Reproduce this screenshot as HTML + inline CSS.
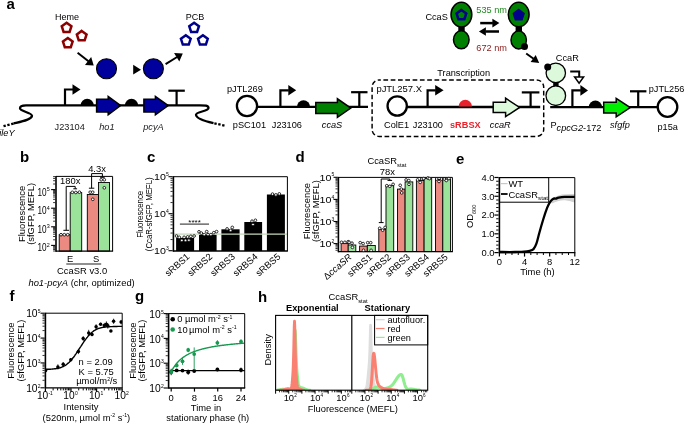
<!DOCTYPE html>
<html lang="en">
<head>
<meta charset="utf-8">
<title>CcaSR figure</title>
<style>
html,body{margin:0;padding:0;background:#fff;}
body{width:685px;height:424px;overflow:hidden;}
svg{display:block;font-family:"Liberation Sans",Arial,sans-serif;}
</style>
</head>
<body>
<svg width="685" height="424" viewBox="0 0 685 424">
<rect x="0" y="0" width="685" height="424" fill="#ffffff"/>
<g id="panel-a">
<text x="6.5" y="8.6" font-size="15" font-weight="bold">a</text>
<text x="55" y="20.3" font-size="9">Heme</text>
<polygon points="66.60,22.70 71.45,26.22 69.60,31.93 63.60,31.93 61.75,26.22" fill="none" stroke="#8b0000" stroke-width="2.5" stroke-linejoin="miter"/>
<polygon points="81.70,30.90 86.55,34.42 84.70,40.13 78.70,40.13 76.85,34.42" fill="none" stroke="#8b0000" stroke-width="2.5" stroke-linejoin="miter"/>
<polygon points="67.80,38.00 72.65,41.52 70.80,47.23 64.80,47.23 62.95,41.52" fill="none" stroke="#8b0000" stroke-width="2.5" stroke-linejoin="miter"/>
<line x1="77.60" y1="52.70" x2="88.46" y2="61.33" stroke="#000" stroke-width="2.0"/>
<polygon points="93.70,65.50 84.95,64.93 91.18,57.11" fill="#000"/>
<circle cx="106.50" cy="68.70" r="10" fill="#00009c" stroke="#000" stroke-width="1.1"/>
<polygon points="133.20,64.80 133.20,74.60 141.00,69.70" fill="#000"/>
<circle cx="153.40" cy="68.70" r="10" fill="#00009c" stroke="#000" stroke-width="1.1"/>
<line x1="165.60" y1="64.10" x2="177.10" y2="57.02" stroke="#000" stroke-width="2.0"/>
<polygon points="182.80,53.50 179.29,61.53 174.05,53.02" fill="#000"/>
<text x="185.8" y="20.3" font-size="9">PCB</text>
<polygon points="194.10,22.70 198.95,26.22 197.10,31.93 191.10,31.93 189.25,26.22" fill="none" stroke="#00008b" stroke-width="2.5" stroke-linejoin="miter"/>
<polygon points="185.80,35.30 190.65,38.82 188.80,44.53 182.80,44.53 180.95,38.82" fill="none" stroke="#00008b" stroke-width="2.5" stroke-linejoin="miter"/>
<polygon points="202.90,35.30 207.75,38.82 205.90,44.53 199.90,44.53 198.05,38.82" fill="none" stroke="#00008b" stroke-width="2.5" stroke-linejoin="miter"/>
<path d="M224.5,125.6 L213.5,123.2" fill="none" stroke="#000" stroke-width="2.3" stroke-dasharray="2.4,1.6"/>
<path d="M213.5,123.2 C204,121 196,118.5 196,114.8 C196,111.5 208.5,111.5 208.5,108 C208.5,105.4 205,105.4 200,105.4 L26,105.4 C22,105.4 20,106.5 20,108.3 C20,111.5 32,112.5 32,115.8 C32,119.5 22,121.5 13.5,123.6" fill="none" stroke="#000" stroke-width="2.3"/>
<path d="M13.5,123.6 L3.5,126.2" fill="none" stroke="#000" stroke-width="2.3" stroke-dasharray="2.4,1.6"/>
<path d="M65,105.4 V89.5 H73.0" fill="none" stroke="#000" stroke-width="2.2"/>
<polygon points="72.50,84.20 72.50,94.80 80.50,89.50" fill="#000"/>
<path d="M80.60,105.4 A6.6,6.6 0 0 1 93.80,105.4 Z" fill="#000"/>
<polygon points="96.60,99.30 108.20,99.30 108.20,96.40 120.60,105.60 108.20,114.80 108.20,111.90 96.60,111.90" fill="#00009c" stroke="#000" stroke-width="1.5"/>
<path d="M124.90,105.4 A6.6,6.6 0 0 1 138.10,105.4 Z" fill="#000"/>
<polygon points="143.90,99.30 155.40,99.30 155.40,96.40 168.20,105.60 155.40,114.80 155.40,111.90 143.90,111.90" fill="#00009c" stroke="#000" stroke-width="1.5"/>
<line x1="176.60" y1="105.40" x2="176.60" y2="90.70" stroke="#000" stroke-width="2.2"/>
<line x1="168.40" y1="90.70" x2="184.80" y2="90.70" stroke="#000" stroke-width="2.2"/>
<text x="-0.8" y="136.4" font-size="9.2" font-style="italic">ileY</text>
<text x="54.6" y="129.8" font-size="9.2" fill="#222">J23104</text>
<text x="99.2" y="129.8" font-size="9.2" font-style="italic" fill="#222">ho1</text>
<text x="143.2" y="129.8" font-size="9.2" font-style="italic" fill="#222">pcyA</text>
<line x1="257.00" y1="106.90" x2="368.00" y2="106.90" stroke="#000" stroke-width="2.3"/>
<circle cx="247.00" cy="106.00" r="10.1" fill="#fff" stroke="#000" stroke-width="2.3"/>
<text x="227" y="92.3" font-size="9.2">pJTL269</text>
<text x="232.8" y="128.2" font-size="9.2">pSC101</text>
<path d="M280.4,106.9 V90.3 H288.8" fill="none" stroke="#000" stroke-width="2.2"/>
<polygon points="288.30,85.00 288.30,95.60 296.20,90.30" fill="#000"/>
<path d="M296.90,106.9 A6.6,6.6 0 0 1 310.10,106.9 Z" fill="#000"/>
<polygon points="315.80,102.60 337.40,102.60 337.40,98.80 350.80,108.10 337.40,117.40 337.40,113.60 315.80,113.60" fill="#008000" stroke="#000" stroke-width="1.5"/>
<line x1="359.30" y1="106.90" x2="359.30" y2="92.20" stroke="#000" stroke-width="2.2"/>
<line x1="351.10" y1="92.20" x2="367.50" y2="92.20" stroke="#000" stroke-width="2.2"/>
<text x="271.8" y="128.2" font-size="9.2">J23106</text>
<text x="321.8" y="128.2" font-size="9.2" font-style="italic">ccaS</text>
<rect x="372.1" y="80" width="171.6" height="56.4" rx="7" ry="7" fill="none" stroke="#000" stroke-width="1.45" stroke-dasharray="4.7,2.6" stroke-dashoffset="3"/>
<text x="437.3" y="75.5" font-size="9.2">Transcription</text>
<line x1="407.00" y1="107.00" x2="540.20" y2="107.00" stroke="#000" stroke-width="2.3"/>
<circle cx="397.20" cy="106.00" r="9.65" fill="#fff" stroke="#000" stroke-width="2.3"/>
<text x="376.4" y="92.2" font-size="9.45">pJTL257.X</text>
<text x="384" y="128.2" font-size="9.2">ColE1</text>
<text x="412.8" y="128.2" font-size="9.2">J23100</text>
<path d="M427.6,107.0 V90.3 H435.7" fill="none" stroke="#000" stroke-width="2.2"/>
<polygon points="435.20,85.00 435.20,95.60 443.60,90.30" fill="#000"/>
<path d="M458.70,106.4 A6.6,6.6 0 0 1 471.90,106.4 Z" fill="#e8222c"/>
<text x="450" y="128.2" font-size="9.2" font-weight="bold" fill="#e8222c">sRBSX</text>
<polygon points="493.20,102.30 505.60,102.30 505.60,98.20 519.60,107.40 505.60,116.60 505.60,112.50 493.20,112.50" fill="#dcf9dc" stroke="#000" stroke-width="1.5"/>
<text x="489.8" y="128.2" font-size="9.2" font-style="italic">ccaR</text>
<line x1="530.60" y1="107.00" x2="530.60" y2="92.40" stroke="#000" stroke-width="2.2"/>
<line x1="521.80" y1="92.40" x2="539.40" y2="92.40" stroke="#000" stroke-width="2.2"/>
<text x="425.4" y="19.7" font-size="9.2">CcaS</text>
<rect x="458.3" y="25" width="6.4" height="8" fill="#000"/>
<ellipse cx="461.40" cy="14.60" rx="10.4" ry="12.3" fill="#008000" stroke="#000" stroke-width="1.5"/>
<ellipse cx="461.30" cy="39.80" rx="7.8" ry="9.0" fill="#008000" stroke="#000" stroke-width="1.5"/>
<polygon points="461.40,9.90 466.25,13.42 464.40,19.13 458.40,19.13 456.55,13.42" fill="none" stroke="#00008b" stroke-width="2.5" stroke-linejoin="miter"/>
<text x="476.3" y="13.2" font-size="9.2" fill="#1f8a1f">535 nm</text>
<text x="476.3" y="50.7" font-size="9.2" fill="#8b1a1a">672 nm</text>
<line x1="480.20" y1="23.10" x2="492.90" y2="23.10" stroke="#000" stroke-width="2.5"/>
<polygon points="499.40,23.10 492.40,27.40 492.40,18.80" fill="#000"/>
<line x1="499.00" y1="31.50" x2="485.40" y2="31.50" stroke="#000" stroke-width="2.5"/>
<polygon points="478.90,31.50 485.90,27.20 485.90,35.80" fill="#000"/>
<rect x="515.6" y="25" width="6.4" height="8" fill="#000"/>
<ellipse cx="518.70" cy="14.50" rx="10.4" ry="12.2" fill="#008000" stroke="#000" stroke-width="1.5"/>
<ellipse cx="518.70" cy="40.00" rx="7.7" ry="8.9" fill="#008000" stroke="#000" stroke-width="1.5"/>
<polygon points="518.70,8.60 524.98,13.16 522.58,20.54 514.82,20.54 512.42,13.16" fill="#00008b" stroke="none" stroke-width="0" stroke-linejoin="miter"/>
<circle cx="524.50" cy="46.60" r="3.5" fill="#000"/>
<line x1="526.20" y1="53.40" x2="533.57" y2="58.84" stroke="#000" stroke-width="1.9"/>
<polygon points="539.20,63.00 530.61,62.00 535.72,55.09" fill="#000"/>
<text x="555.8" y="60.8" font-size="9.2">CcaR</text>
<rect x="553.2" y="80" width="5.4" height="9" fill="#000"/>
<circle cx="555.80" cy="72.90" r="9.7" fill="#dcf9dc" stroke="#000" stroke-width="1.3"/>
<circle cx="555.80" cy="95.70" r="9.8" fill="#dcf9dc" stroke="#000" stroke-width="1.3"/>
<circle cx="547.70" cy="67.00" r="3.5" fill="#000"/>
<line x1="550.20" y1="107.20" x2="658.00" y2="107.20" stroke="#000" stroke-width="2.3"/>
<path d="M570.2,71.6 H579.2 V77" fill="none" stroke="#000" stroke-width="2"/>
<polygon points="574.60,77.00 583.60,77.00 579.10,83.20" fill="#fff" stroke="#000" stroke-width="1.5"/>
<path d="M572.4,107.2 V90.4 H580.9" fill="none" stroke="#000" stroke-width="2.2"/>
<polygon points="580.40,85.10 580.40,95.70 588.00,90.40" fill="#000"/>
<path d="M588.80,107.2 A6.6,6.6 0 0 1 602.00,107.2 Z" fill="#000"/>
<polygon points="603.70,102.20 616.20,102.20 616.20,98.40 630.20,107.60 616.20,116.80 616.20,113.00 603.70,113.00" fill="#00ee00" stroke="#000" stroke-width="1.5"/>
<line x1="638.20" y1="107.20" x2="638.20" y2="91.30" stroke="#000" stroke-width="2.2"/>
<line x1="630.00" y1="91.30" x2="646.40" y2="91.30" stroke="#000" stroke-width="2.2"/>
<circle cx="667.50" cy="107.00" r="9.8" fill="#fff" stroke="#000" stroke-width="2.3"/>
<text x="648.7" y="92.2" font-size="9.2">pJTL256</text>
<text x="657.5" y="129.8" font-size="9.2">p15a</text>
<text x="610" y="128.2" font-size="9.2" font-style="italic">sfgfp</text>
<text x="550.4" y="128.2" font-size="9.2">P<tspan font-style="italic" dy="2.8">cpcG2</tspan><tspan dy="-0.3">-172</tspan></text>
</g>
<g id="panel-b">
<text x="20" y="162.1" font-size="15" font-weight="bold">b</text>
<rect x="59.20" y="234.70" width="11.00" height="16.40" fill="#ea8a80" stroke="#000" stroke-width="0.9"/>
<rect x="70.20" y="192.60" width="11.50" height="58.50" fill="#9be29b" stroke="#000" stroke-width="0.9"/>
<rect x="87.30" y="194.50" width="11.20" height="56.60" fill="#ea8a80" stroke="#000" stroke-width="0.9"/>
<rect x="98.50" y="182.50" width="11.00" height="68.60" fill="#9be29b" stroke="#000" stroke-width="0.9"/>
<path d="M56.0,176.4 H112.6 V251.1" fill="none" stroke="#000" stroke-width="1"/>
<line x1="55.70" y1="251.10" x2="113.10" y2="251.10" stroke="#000" stroke-width="1.3"/>
<line x1="56.00" y1="175.90" x2="56.00" y2="251.75" stroke="#000" stroke-width="1.6"/>
<line x1="53.10" y1="251.00" x2="55.30" y2="251.00" stroke="#000" stroke-width="0.8"/>
<line x1="53.10" y1="249.53" x2="55.30" y2="249.53" stroke="#000" stroke-width="0.8"/>
<line x1="53.10" y1="248.28" x2="55.30" y2="248.28" stroke="#000" stroke-width="0.8"/>
<line x1="53.10" y1="247.20" x2="55.30" y2="247.20" stroke="#000" stroke-width="0.8"/>
<line x1="53.10" y1="246.25" x2="55.30" y2="246.25" stroke="#000" stroke-width="0.8"/>
<line x1="51.10" y1="245.40" x2="55.30" y2="245.40" stroke="#000" stroke-width="1.1"/>
<line x1="53.10" y1="239.80" x2="55.30" y2="239.80" stroke="#000" stroke-width="0.8"/>
<line x1="53.10" y1="236.53" x2="55.30" y2="236.53" stroke="#000" stroke-width="0.8"/>
<line x1="53.10" y1="234.20" x2="55.30" y2="234.20" stroke="#000" stroke-width="0.8"/>
<line x1="53.10" y1="232.40" x2="55.30" y2="232.40" stroke="#000" stroke-width="0.8"/>
<line x1="53.10" y1="230.93" x2="55.30" y2="230.93" stroke="#000" stroke-width="0.8"/>
<line x1="53.10" y1="229.68" x2="55.30" y2="229.68" stroke="#000" stroke-width="0.8"/>
<line x1="53.10" y1="228.60" x2="55.30" y2="228.60" stroke="#000" stroke-width="0.8"/>
<line x1="53.10" y1="227.65" x2="55.30" y2="227.65" stroke="#000" stroke-width="0.8"/>
<line x1="51.10" y1="226.80" x2="55.30" y2="226.80" stroke="#000" stroke-width="1.1"/>
<line x1="53.10" y1="221.20" x2="55.30" y2="221.20" stroke="#000" stroke-width="0.8"/>
<line x1="53.10" y1="217.93" x2="55.30" y2="217.93" stroke="#000" stroke-width="0.8"/>
<line x1="53.10" y1="215.60" x2="55.30" y2="215.60" stroke="#000" stroke-width="0.8"/>
<line x1="53.10" y1="213.80" x2="55.30" y2="213.80" stroke="#000" stroke-width="0.8"/>
<line x1="53.10" y1="212.33" x2="55.30" y2="212.33" stroke="#000" stroke-width="0.8"/>
<line x1="53.10" y1="211.08" x2="55.30" y2="211.08" stroke="#000" stroke-width="0.8"/>
<line x1="53.10" y1="210.00" x2="55.30" y2="210.00" stroke="#000" stroke-width="0.8"/>
<line x1="53.10" y1="209.05" x2="55.30" y2="209.05" stroke="#000" stroke-width="0.8"/>
<line x1="51.10" y1="208.20" x2="55.30" y2="208.20" stroke="#000" stroke-width="1.1"/>
<line x1="53.10" y1="202.60" x2="55.30" y2="202.60" stroke="#000" stroke-width="0.8"/>
<line x1="53.10" y1="199.33" x2="55.30" y2="199.33" stroke="#000" stroke-width="0.8"/>
<line x1="53.10" y1="197.00" x2="55.30" y2="197.00" stroke="#000" stroke-width="0.8"/>
<line x1="53.10" y1="195.20" x2="55.30" y2="195.20" stroke="#000" stroke-width="0.8"/>
<line x1="53.10" y1="193.73" x2="55.30" y2="193.73" stroke="#000" stroke-width="0.8"/>
<line x1="53.10" y1="192.48" x2="55.30" y2="192.48" stroke="#000" stroke-width="0.8"/>
<line x1="53.10" y1="191.40" x2="55.30" y2="191.40" stroke="#000" stroke-width="0.8"/>
<line x1="53.10" y1="190.45" x2="55.30" y2="190.45" stroke="#000" stroke-width="0.8"/>
<line x1="51.10" y1="189.60" x2="55.30" y2="189.60" stroke="#000" stroke-width="1.1"/>
<line x1="53.10" y1="184.00" x2="55.30" y2="184.00" stroke="#000" stroke-width="0.8"/>
<line x1="53.10" y1="180.73" x2="55.30" y2="180.73" stroke="#000" stroke-width="0.8"/>
<line x1="53.10" y1="178.40" x2="55.30" y2="178.40" stroke="#000" stroke-width="0.8"/>
<line x1="53.10" y1="176.60" x2="55.30" y2="176.60" stroke="#000" stroke-width="0.8"/>
<text transform="translate(46.60,251.40) scale(0.76,1)" font-size="10.8" text-anchor="end">10</text>
<text x="46.80" y="246.80" font-size="5.4">2</text>
<text transform="translate(46.60,232.80) scale(0.76,1)" font-size="10.8" text-anchor="end">10</text>
<text x="46.80" y="228.20" font-size="5.4">3</text>
<text transform="translate(46.60,214.20) scale(0.76,1)" font-size="10.8" text-anchor="end">10</text>
<text x="46.80" y="209.60" font-size="5.4">4</text>
<text transform="translate(46.60,195.60) scale(0.76,1)" font-size="10.8" text-anchor="end">10</text>
<text x="46.80" y="191.00" font-size="5.4">5</text>
<text transform="translate(24.9,213.9) rotate(-90)" font-size="9.4" text-anchor="middle">Fluorescence</text>
<text transform="translate(33.8,213.9) rotate(-90)" font-size="9.4" text-anchor="middle">(sfGFP, MEFL)</text>
<path d="M66.2,230.3 V186.4 H75.2 V188.8" fill="none" stroke="#000" stroke-width="1"/>
<line x1="63.40" y1="230.30" x2="69.00" y2="230.30" stroke="#000" stroke-width="1"/>
<line x1="73.30" y1="188.80" x2="77.10" y2="188.80" stroke="#000" stroke-width="1"/>
<path d="M91.6,188.2 V173.6 H102.4 V177.3" fill="none" stroke="#000" stroke-width="1"/>
<line x1="88.90" y1="188.20" x2="94.30" y2="188.20" stroke="#000" stroke-width="1"/>
<line x1="100.10" y1="177.30" x2="104.70" y2="177.30" stroke="#000" stroke-width="1"/>
<text x="70.2" y="183.9" font-size="9.4" text-anchor="middle">180x</text>
<text x="97" y="171.9" font-size="9.4" text-anchor="middle">4.3x</text>
<circle cx="61.00" cy="234.70" r="1.35" fill="#fff" stroke="#000" stroke-width="0.8"/>
<circle cx="64.30" cy="234.70" r="1.35" fill="#fff" stroke="#000" stroke-width="0.8"/>
<circle cx="67.70" cy="234.70" r="1.35" fill="#fff" stroke="#000" stroke-width="0.8"/>
<circle cx="72.30" cy="192.30" r="1.35" fill="#fff" stroke="#000" stroke-width="0.8"/>
<circle cx="75.80" cy="192.50" r="1.35" fill="#fff" stroke="#000" stroke-width="0.8"/>
<circle cx="79.40" cy="192.20" r="1.35" fill="#fff" stroke="#000" stroke-width="0.8"/>
<circle cx="90.20" cy="192.20" r="1.35" fill="#fff" stroke="#000" stroke-width="0.8"/>
<circle cx="92.70" cy="192.20" r="1.35" fill="#fff" stroke="#000" stroke-width="0.8"/>
<circle cx="92.80" cy="199.30" r="1.35" fill="#fff" stroke="#000" stroke-width="0.8"/>
<circle cx="101.20" cy="179.80" r="1.35" fill="#fff" stroke="#000" stroke-width="0.8"/>
<circle cx="104.30" cy="179.80" r="1.35" fill="#fff" stroke="#000" stroke-width="0.8"/>
<circle cx="104.30" cy="187.80" r="1.35" fill="#fff" stroke="#000" stroke-width="0.8"/>
<text x="70.2" y="261.8" font-size="9.4" text-anchor="middle">E</text>
<text x="96.2" y="261.8" font-size="9.4" text-anchor="middle">S</text>
<line x1="66.30" y1="264.00" x2="101.20" y2="264.00" stroke="#222" stroke-width="1.1"/>
<text x="82.1" y="274.2" font-size="9.4" text-anchor="middle">CcaSR v3.0</text>
<text x="81.6" y="285.5" font-size="9.4" text-anchor="middle"><tspan font-style="italic">ho1-pcyA</tspan> (chr, optimized)</text>
</g>
<g id="panel-c">
<text x="147" y="162.1" font-size="15" font-weight="bold">c</text>
<rect x="176.10" y="237.90" width="18.00" height="13.10" fill="#000"/>
<rect x="199.00" y="234.60" width="17.60" height="16.40" fill="#000"/>
<rect x="221.40" y="229.30" width="18.20" height="21.70" fill="#000"/>
<rect x="244.30" y="222.00" width="17.80" height="29.00" fill="#000"/>
<rect x="266.90" y="194.50" width="18.00" height="56.50" fill="#000"/>
<line x1="173.40" y1="234.10" x2="287.40" y2="234.10" stroke="#c4d8bc" stroke-width="1.1"/>
<path d="M173.4,176.7 H287.4 V251" fill="none" stroke="#000" stroke-width="1"/>
<line x1="173.10" y1="251.00" x2="287.90" y2="251.00" stroke="#000" stroke-width="1.3"/>
<line x1="173.40" y1="176.20" x2="173.40" y2="251.65" stroke="#000" stroke-width="1.6"/>
<line x1="168.50" y1="250.70" x2="172.70" y2="250.70" stroke="#000" stroke-width="1.1"/>
<line x1="170.50" y1="239.56" x2="172.70" y2="239.56" stroke="#000" stroke-width="0.8"/>
<line x1="170.50" y1="233.05" x2="172.70" y2="233.05" stroke="#000" stroke-width="0.8"/>
<line x1="170.50" y1="228.42" x2="172.70" y2="228.42" stroke="#000" stroke-width="0.8"/>
<line x1="170.50" y1="224.84" x2="172.70" y2="224.84" stroke="#000" stroke-width="0.8"/>
<line x1="170.50" y1="221.91" x2="172.70" y2="221.91" stroke="#000" stroke-width="0.8"/>
<line x1="170.50" y1="219.43" x2="172.70" y2="219.43" stroke="#000" stroke-width="0.8"/>
<line x1="170.50" y1="217.29" x2="172.70" y2="217.29" stroke="#000" stroke-width="0.8"/>
<line x1="170.50" y1="215.39" x2="172.70" y2="215.39" stroke="#000" stroke-width="0.8"/>
<line x1="168.50" y1="213.70" x2="172.70" y2="213.70" stroke="#000" stroke-width="1.1"/>
<line x1="170.50" y1="202.56" x2="172.70" y2="202.56" stroke="#000" stroke-width="0.8"/>
<line x1="170.50" y1="196.05" x2="172.70" y2="196.05" stroke="#000" stroke-width="0.8"/>
<line x1="170.50" y1="191.42" x2="172.70" y2="191.42" stroke="#000" stroke-width="0.8"/>
<line x1="170.50" y1="187.84" x2="172.70" y2="187.84" stroke="#000" stroke-width="0.8"/>
<line x1="170.50" y1="184.91" x2="172.70" y2="184.91" stroke="#000" stroke-width="0.8"/>
<line x1="170.50" y1="182.43" x2="172.70" y2="182.43" stroke="#000" stroke-width="0.8"/>
<line x1="170.50" y1="180.29" x2="172.70" y2="180.29" stroke="#000" stroke-width="0.8"/>
<line x1="170.50" y1="178.39" x2="172.70" y2="178.39" stroke="#000" stroke-width="0.8"/>
<line x1="168.50" y1="176.70" x2="172.70" y2="176.70" stroke="#000" stroke-width="1.1"/>
<text transform="translate(165.82,254.10) scale(1.1,1)" font-size="9.7" text-anchor="end">10</text>
<text x="166.02" y="249.90" font-size="5.0">3</text>
<text transform="translate(165.82,217.10) scale(1.1,1)" font-size="9.7" text-anchor="end">10</text>
<text x="166.02" y="212.90" font-size="5.0">4</text>
<text transform="translate(165.82,180.10) scale(1.1,1)" font-size="9.7" text-anchor="end">10</text>
<text x="166.02" y="175.90" font-size="5.0">5</text>
<text transform="translate(143,214.3) rotate(-90) scale(0.835,1)" font-size="9.4" text-anchor="middle">Fluorescence</text>
<text transform="translate(152,214.3) rotate(-90) scale(0.835,1)" font-size="9.4" text-anchor="middle">(CcaR-sfGFP, MEFL)</text>
<line x1="179.90" y1="224.10" x2="209.00" y2="224.10" stroke="#333" stroke-width="1.1"/>
<text x="194.6" y="224.6" font-size="8" text-anchor="middle">****</text>
<circle cx="176.50" cy="236.00" r="1.35" fill="#fff" stroke="#000" stroke-width="0.8"/>
<circle cx="179.30" cy="237.30" r="1.35" fill="#fff" stroke="#000" stroke-width="0.8"/>
<circle cx="181.80" cy="240.40" r="1.35" fill="#fff" stroke="#000" stroke-width="0.8"/>
<circle cx="184.10" cy="237.30" r="1.35" fill="#fff" stroke="#000" stroke-width="0.8"/>
<circle cx="185.50" cy="240.40" r="1.35" fill="#fff" stroke="#000" stroke-width="0.8"/>
<circle cx="187.60" cy="236.90" r="1.35" fill="#fff" stroke="#000" stroke-width="0.8"/>
<circle cx="188.90" cy="240.20" r="1.35" fill="#fff" stroke="#000" stroke-width="0.8"/>
<circle cx="190.80" cy="236.30" r="1.35" fill="#fff" stroke="#000" stroke-width="0.8"/>
<circle cx="194.10" cy="236.00" r="1.35" fill="#fff" stroke="#000" stroke-width="0.8"/>
<circle cx="199.00" cy="231.80" r="1.35" fill="#fff" stroke="#000" stroke-width="0.8"/>
<circle cx="201.30" cy="233.10" r="1.35" fill="#fff" stroke="#000" stroke-width="0.8"/>
<circle cx="204.20" cy="234.60" r="1.35" fill="#fff" stroke="#000" stroke-width="0.8"/>
<circle cx="206.70" cy="231.60" r="1.35" fill="#fff" stroke="#000" stroke-width="0.8"/>
<circle cx="208.00" cy="234.60" r="1.35" fill="#fff" stroke="#000" stroke-width="0.8"/>
<circle cx="210.90" cy="234.60" r="1.35" fill="#fff" stroke="#000" stroke-width="0.8"/>
<circle cx="213.80" cy="232.70" r="1.35" fill="#fff" stroke="#000" stroke-width="0.8"/>
<circle cx="216.60" cy="231.60" r="1.35" fill="#fff" stroke="#000" stroke-width="0.8"/>
<circle cx="227.10" cy="228.90" r="1.35" fill="#fff" stroke="#000" stroke-width="0.8"/>
<circle cx="230.60" cy="230.40" r="1.35" fill="#fff" stroke="#000" stroke-width="0.8"/>
<circle cx="232.30" cy="227.40" r="1.35" fill="#fff" stroke="#000" stroke-width="0.8"/>
<circle cx="252.00" cy="221.20" r="1.35" fill="#fff" stroke="#000" stroke-width="0.8"/>
<circle cx="253.00" cy="224.50" r="1.35" fill="#fff" stroke="#000" stroke-width="0.8"/>
<circle cx="255.40" cy="220.30" r="1.35" fill="#fff" stroke="#000" stroke-width="0.8"/>
<circle cx="272.50" cy="194.10" r="1.35" fill="#fff" stroke="#000" stroke-width="0.8"/>
<circle cx="275.90" cy="194.90" r="1.35" fill="#fff" stroke="#000" stroke-width="0.8"/>
<circle cx="279.30" cy="193.90" r="1.35" fill="#fff" stroke="#000" stroke-width="0.8"/>
<text transform="translate(190.3,257.6) rotate(-41)" font-size="9.4" text-anchor="end">sRBS1</text>
<text transform="translate(213.0,257.6) rotate(-41)" font-size="9.4" text-anchor="end">sRBS2</text>
<text transform="translate(235.7,257.6) rotate(-41)" font-size="9.4" text-anchor="end">sRBS3</text>
<text transform="translate(258.4,257.6) rotate(-41)" font-size="9.4" text-anchor="end">sRBS4</text>
<text transform="translate(281.1,257.6) rotate(-41)" font-size="9.4" text-anchor="end">sRBS5</text>
</g>
<g id="panel-d">
<text x="295.5" y="161.6" font-size="15" font-weight="bold">d</text>
<text x="367.4" y="163.9" font-size="9.4">CcaSR<tspan font-size="5.8" dy="2.6">stat</tspan></text>
<text x="387.4" y="175.4" font-size="9.4" text-anchor="middle">78x</text>
<rect x="341.10" y="243.60" width="7.10" height="8.00" fill="#ea8a80" stroke="#000" stroke-width="0.9"/>
<rect x="348.20" y="245.00" width="7.60" height="6.60" fill="#9be29b" stroke="#000" stroke-width="0.9"/>
<rect x="359.60" y="246.10" width="7.70" height="5.50" fill="#ea8a80" stroke="#000" stroke-width="0.9"/>
<rect x="367.30" y="245.50" width="8.00" height="6.10" fill="#9be29b" stroke="#000" stroke-width="0.9"/>
<rect x="378.80" y="229.30" width="7.20" height="22.30" fill="#ea8a80" stroke="#000" stroke-width="0.9"/>
<rect x="386.00" y="185.70" width="7.70" height="65.90" fill="#9be29b" stroke="#000" stroke-width="0.9"/>
<rect x="397.50" y="189.10" width="7.60" height="62.50" fill="#ea8a80" stroke="#000" stroke-width="0.9"/>
<rect x="405.10" y="181.90" width="7.70" height="69.70" fill="#9be29b" stroke="#000" stroke-width="0.9"/>
<rect x="416.40" y="180.50" width="7.70" height="71.10" fill="#ea8a80" stroke="#000" stroke-width="0.9"/>
<rect x="424.10" y="178.60" width="7.60" height="73.00" fill="#9be29b" stroke="#000" stroke-width="0.9"/>
<rect x="435.50" y="179.60" width="7.30" height="72.00" fill="#ea8a80" stroke="#000" stroke-width="0.9"/>
<rect x="442.80" y="179.00" width="7.70" height="72.60" fill="#9be29b" stroke="#000" stroke-width="0.9"/>
<path d="M338.4,177.4 H452.4 V251.6" fill="none" stroke="#000" stroke-width="1"/>
<line x1="338.10" y1="251.60" x2="452.90" y2="251.60" stroke="#000" stroke-width="1.3"/>
<line x1="338.40" y1="176.90" x2="338.40" y2="252.25" stroke="#000" stroke-width="1.6"/>
<line x1="335.50" y1="250.25" x2="337.70" y2="250.25" stroke="#000" stroke-width="0.8"/>
<line x1="335.50" y1="248.50" x2="337.70" y2="248.50" stroke="#000" stroke-width="0.8"/>
<line x1="335.50" y1="247.02" x2="337.70" y2="247.02" stroke="#000" stroke-width="0.8"/>
<line x1="335.50" y1="245.74" x2="337.70" y2="245.74" stroke="#000" stroke-width="0.8"/>
<line x1="335.50" y1="244.61" x2="337.70" y2="244.61" stroke="#000" stroke-width="0.8"/>
<line x1="333.50" y1="243.60" x2="337.70" y2="243.60" stroke="#000" stroke-width="1.1"/>
<line x1="335.50" y1="236.95" x2="337.70" y2="236.95" stroke="#000" stroke-width="0.8"/>
<line x1="335.50" y1="233.06" x2="337.70" y2="233.06" stroke="#000" stroke-width="0.8"/>
<line x1="335.50" y1="230.29" x2="337.70" y2="230.29" stroke="#000" stroke-width="0.8"/>
<line x1="335.50" y1="228.15" x2="337.70" y2="228.15" stroke="#000" stroke-width="0.8"/>
<line x1="335.50" y1="226.40" x2="337.70" y2="226.40" stroke="#000" stroke-width="0.8"/>
<line x1="335.50" y1="224.92" x2="337.70" y2="224.92" stroke="#000" stroke-width="0.8"/>
<line x1="335.50" y1="223.64" x2="337.70" y2="223.64" stroke="#000" stroke-width="0.8"/>
<line x1="335.50" y1="222.51" x2="337.70" y2="222.51" stroke="#000" stroke-width="0.8"/>
<line x1="333.50" y1="221.50" x2="337.70" y2="221.50" stroke="#000" stroke-width="1.1"/>
<line x1="335.50" y1="214.85" x2="337.70" y2="214.85" stroke="#000" stroke-width="0.8"/>
<line x1="335.50" y1="210.96" x2="337.70" y2="210.96" stroke="#000" stroke-width="0.8"/>
<line x1="335.50" y1="208.19" x2="337.70" y2="208.19" stroke="#000" stroke-width="0.8"/>
<line x1="335.50" y1="206.05" x2="337.70" y2="206.05" stroke="#000" stroke-width="0.8"/>
<line x1="335.50" y1="204.30" x2="337.70" y2="204.30" stroke="#000" stroke-width="0.8"/>
<line x1="335.50" y1="202.82" x2="337.70" y2="202.82" stroke="#000" stroke-width="0.8"/>
<line x1="335.50" y1="201.54" x2="337.70" y2="201.54" stroke="#000" stroke-width="0.8"/>
<line x1="335.50" y1="200.41" x2="337.70" y2="200.41" stroke="#000" stroke-width="0.8"/>
<line x1="333.50" y1="199.40" x2="337.70" y2="199.40" stroke="#000" stroke-width="1.1"/>
<line x1="335.50" y1="192.75" x2="337.70" y2="192.75" stroke="#000" stroke-width="0.8"/>
<line x1="335.50" y1="188.86" x2="337.70" y2="188.86" stroke="#000" stroke-width="0.8"/>
<line x1="335.50" y1="186.09" x2="337.70" y2="186.09" stroke="#000" stroke-width="0.8"/>
<line x1="335.50" y1="183.95" x2="337.70" y2="183.95" stroke="#000" stroke-width="0.8"/>
<line x1="335.50" y1="182.20" x2="337.70" y2="182.20" stroke="#000" stroke-width="0.8"/>
<line x1="335.50" y1="180.72" x2="337.70" y2="180.72" stroke="#000" stroke-width="0.8"/>
<line x1="335.50" y1="179.44" x2="337.70" y2="179.44" stroke="#000" stroke-width="0.8"/>
<line x1="335.50" y1="178.31" x2="337.70" y2="178.31" stroke="#000" stroke-width="0.8"/>
<line x1="333.50" y1="177.30" x2="337.70" y2="177.30" stroke="#000" stroke-width="1.1"/>
<text transform="translate(331.42,246.90) scale(1.1,1)" font-size="9.7" text-anchor="end">10</text>
<text x="331.62" y="242.70" font-size="5.0">2</text>
<text transform="translate(331.42,224.80) scale(1.1,1)" font-size="9.7" text-anchor="end">10</text>
<text x="331.62" y="220.60" font-size="5.0">3</text>
<text transform="translate(331.42,202.70) scale(1.1,1)" font-size="9.7" text-anchor="end">10</text>
<text x="331.62" y="198.50" font-size="5.0">4</text>
<text transform="translate(331.42,180.60) scale(1.1,1)" font-size="9.7" text-anchor="end">10</text>
<text x="331.62" y="176.40" font-size="5.0">5</text>
<text transform="translate(309.6,211.1) rotate(-90)" font-size="9.4" text-anchor="middle">Fluorescence</text>
<text transform="translate(319.2,211.1) rotate(-90)" font-size="9.4" text-anchor="middle">(sfGFP, MEFL)</text>
<path d="M381.2,222.6 V179 H389.8 V180.2" fill="none" stroke="#000" stroke-width="1"/>
<line x1="378.80" y1="222.60" x2="383.60" y2="222.60" stroke="#000" stroke-width="1"/>
<line x1="387.50" y1="180.40" x2="392.10" y2="180.40" stroke="#000" stroke-width="1"/>
<circle cx="341.50" cy="242.30" r="1.35" fill="#fff" stroke="#000" stroke-width="0.8"/>
<circle cx="344.90" cy="242.30" r="1.35" fill="#fff" stroke="#000" stroke-width="0.8"/>
<circle cx="348.20" cy="241.70" r="1.35" fill="#fff" stroke="#000" stroke-width="0.8"/>
<circle cx="349.10" cy="242.30" r="1.35" fill="#fff" stroke="#000" stroke-width="0.8"/>
<circle cx="352.00" cy="243.20" r="1.35" fill="#fff" stroke="#000" stroke-width="0.8"/>
<circle cx="352.40" cy="247.40" r="1.35" fill="#fff" stroke="#000" stroke-width="0.8"/>
<circle cx="360.20" cy="242.70" r="1.35" fill="#fff" stroke="#000" stroke-width="0.8"/>
<circle cx="363.10" cy="243.60" r="1.35" fill="#fff" stroke="#000" stroke-width="0.8"/>
<circle cx="363.50" cy="250.30" r="1.35" fill="#fff" stroke="#000" stroke-width="0.8"/>
<circle cx="367.70" cy="242.70" r="1.35" fill="#fff" stroke="#000" stroke-width="0.8"/>
<circle cx="370.70" cy="242.70" r="1.35" fill="#fff" stroke="#000" stroke-width="0.8"/>
<circle cx="371.10" cy="250.30" r="1.35" fill="#fff" stroke="#000" stroke-width="0.8"/>
<circle cx="379.70" cy="228.30" r="1.35" fill="#fff" stroke="#000" stroke-width="0.8"/>
<circle cx="382.60" cy="230.20" r="1.35" fill="#fff" stroke="#000" stroke-width="0.8"/>
<circle cx="385.10" cy="227.40" r="1.35" fill="#fff" stroke="#000" stroke-width="0.8"/>
<circle cx="386.80" cy="185.70" r="1.35" fill="#fff" stroke="#000" stroke-width="0.8"/>
<circle cx="389.80" cy="186.30" r="1.35" fill="#fff" stroke="#000" stroke-width="0.8"/>
<circle cx="393.10" cy="184.30" r="1.35" fill="#fff" stroke="#000" stroke-width="0.8"/>
<circle cx="400.20" cy="185.30" r="1.35" fill="#fff" stroke="#000" stroke-width="0.8"/>
<circle cx="401.30" cy="189.10" r="1.35" fill="#fff" stroke="#000" stroke-width="0.8"/>
<circle cx="401.70" cy="192.90" r="1.35" fill="#fff" stroke="#000" stroke-width="0.8"/>
<circle cx="406.10" cy="179.90" r="1.35" fill="#fff" stroke="#000" stroke-width="0.8"/>
<circle cx="408.80" cy="180.50" r="1.35" fill="#fff" stroke="#000" stroke-width="0.8"/>
<circle cx="409.00" cy="184.30" r="1.35" fill="#fff" stroke="#000" stroke-width="0.8"/>
<circle cx="417.60" cy="179.90" r="1.35" fill="#fff" stroke="#000" stroke-width="0.8"/>
<circle cx="420.20" cy="182.40" r="1.35" fill="#fff" stroke="#000" stroke-width="0.8"/>
<circle cx="421.80" cy="179.00" r="1.35" fill="#fff" stroke="#000" stroke-width="0.8"/>
<circle cx="423.70" cy="178.60" r="1.35" fill="#fff" stroke="#000" stroke-width="0.8"/>
<circle cx="427.90" cy="178.00" r="1.35" fill="#fff" stroke="#000" stroke-width="0.8"/>
<circle cx="429.40" cy="178.60" r="1.35" fill="#fff" stroke="#000" stroke-width="0.8"/>
<circle cx="436.70" cy="179.00" r="1.35" fill="#fff" stroke="#000" stroke-width="0.8"/>
<circle cx="439.00" cy="181.50" r="1.35" fill="#fff" stroke="#000" stroke-width="0.8"/>
<circle cx="441.50" cy="179.00" r="1.35" fill="#fff" stroke="#000" stroke-width="0.8"/>
<circle cx="444.30" cy="179.00" r="1.35" fill="#fff" stroke="#000" stroke-width="0.8"/>
<circle cx="446.30" cy="180.50" r="1.35" fill="#fff" stroke="#000" stroke-width="0.8"/>
<circle cx="448.90" cy="178.60" r="1.35" fill="#fff" stroke="#000" stroke-width="0.8"/>
<text transform="translate(352.4,258) rotate(-41)" font-size="9.4" text-anchor="end"><tspan>Δ</tspan><tspan font-style="italic">ccaSR</tspan></text>
<text transform="translate(372.9,258) rotate(-41)" font-size="9.4" text-anchor="end">sRBS1</text>
<text transform="translate(391.6,258) rotate(-41)" font-size="9.4" text-anchor="end">sRBS2</text>
<text transform="translate(410.7,258) rotate(-41)" font-size="9.4" text-anchor="end">sRBS3</text>
<text transform="translate(429.7,258) rotate(-41)" font-size="9.4" text-anchor="end">sRBS4</text>
<text transform="translate(448.4,258) rotate(-41)" font-size="9.4" text-anchor="end">sRBS5</text>
</g>
<g id="panel-e">
<text x="456" y="164.2" font-size="15" font-weight="bold">e</text>
<path d="M550,201.5 C553,197.5 557,195.6 562,194.6 C566,193.9 571,193.8 574.8,194.0 L574.8,202.6 C572,201.6 569,200.6 565,200.2 C560,200 556,201.2 552,203.6 Z" fill="#d2d2d2"/>
<path d="M499.4,252.0 C502.0,252.0 510.9,252.1 515.0,252.0 C519.1,251.9 521.5,251.9 524.0,251.7 C526.5,251.5 528.1,251.2 529.7,250.8 C531.3,250.4 532.4,250.3 533.5,249.1 C534.6,247.9 535.4,246.4 536.4,243.7 C537.4,241.0 538.2,237.0 539.3,233.0 C540.4,229.0 541.9,223.7 543.2,219.5 C544.5,215.3 546.0,210.8 547.1,207.9 C548.2,205.0 549.1,203.5 550.0,202.1 C550.9,200.7 551.7,200.0 552.4,199.4 C553.1,198.8 553.6,198.6 554.2,198.5 C554.8,198.4 555.0,198.8 555.8,198.7 C556.5,198.5 557.2,197.9 558.7,197.6 C560.2,197.3 562.8,196.9 564.5,196.8 C566.2,196.7 567.3,196.9 569.0,196.9 C570.7,196.9 573.8,196.9 574.8,196.9" fill="none" stroke="#000" stroke-width="2.3" stroke-linejoin="round"/>
<rect x="499.4" y="177.6" width="49.3" height="24.6" fill="#fff" stroke="#000" stroke-width="1"/>
<line x1="501.00" y1="183.60" x2="507.60" y2="183.60" stroke="#c8c8c8" stroke-width="1.2"/>
<line x1="501.00" y1="194.00" x2="507.60" y2="194.00" stroke="#000" stroke-width="1.8"/>
<text x="508.4" y="186.8" font-size="9.4">WT</text>
<text x="508.4" y="197.5" font-size="9.4">CcaSR<tspan font-size="6.2" dy="2.6">stat</tspan></text>
<path d="M499.4,177.6 H574.8 V252.6" fill="none" stroke="#000" stroke-width="1"/>
<line x1="499.10" y1="252.60" x2="575.30" y2="252.60" stroke="#000" stroke-width="1.3"/>
<line x1="499.40" y1="177.10" x2="499.40" y2="253.25" stroke="#000" stroke-width="1.6"/>
<line x1="494.40" y1="252.60" x2="498.60" y2="252.60" stroke="#000" stroke-width="1.2"/>
<line x1="496.20" y1="248.84" x2="498.60" y2="248.84" stroke="#000" stroke-width="1"/>
<line x1="496.20" y1="245.09" x2="498.60" y2="245.09" stroke="#000" stroke-width="1"/>
<line x1="496.20" y1="241.33" x2="498.60" y2="241.33" stroke="#000" stroke-width="1"/>
<line x1="496.20" y1="237.58" x2="498.60" y2="237.58" stroke="#000" stroke-width="1"/>
<line x1="494.40" y1="233.82" x2="498.60" y2="233.82" stroke="#000" stroke-width="1.2"/>
<line x1="496.20" y1="230.06" x2="498.60" y2="230.06" stroke="#000" stroke-width="1"/>
<line x1="496.20" y1="226.31" x2="498.60" y2="226.31" stroke="#000" stroke-width="1"/>
<line x1="496.20" y1="222.55" x2="498.60" y2="222.55" stroke="#000" stroke-width="1"/>
<line x1="496.20" y1="218.80" x2="498.60" y2="218.80" stroke="#000" stroke-width="1"/>
<line x1="494.40" y1="215.04" x2="498.60" y2="215.04" stroke="#000" stroke-width="1.2"/>
<line x1="496.20" y1="211.28" x2="498.60" y2="211.28" stroke="#000" stroke-width="1"/>
<line x1="496.20" y1="207.53" x2="498.60" y2="207.53" stroke="#000" stroke-width="1"/>
<line x1="496.20" y1="203.77" x2="498.60" y2="203.77" stroke="#000" stroke-width="1"/>
<line x1="496.20" y1="200.02" x2="498.60" y2="200.02" stroke="#000" stroke-width="1"/>
<line x1="494.40" y1="196.26" x2="498.60" y2="196.26" stroke="#000" stroke-width="1.2"/>
<line x1="496.20" y1="192.50" x2="498.60" y2="192.50" stroke="#000" stroke-width="1"/>
<line x1="496.20" y1="188.75" x2="498.60" y2="188.75" stroke="#000" stroke-width="1"/>
<line x1="496.20" y1="184.99" x2="498.60" y2="184.99" stroke="#000" stroke-width="1"/>
<line x1="496.20" y1="181.24" x2="498.60" y2="181.24" stroke="#000" stroke-width="1"/>
<line x1="494.40" y1="177.48" x2="498.60" y2="177.48" stroke="#000" stroke-width="1.2"/>
<text x="494.6" y="255.9" font-size="9.4" text-anchor="end">0.0</text>
<text x="494.6" y="237.12" font-size="9.4" text-anchor="end">1.0</text>
<text x="494.6" y="218.34" font-size="9.4" text-anchor="end">2.0</text>
<text x="494.6" y="199.56" font-size="9.4" text-anchor="end">3.0</text>
<text x="494.6" y="180.78" font-size="9.4" text-anchor="end">4.0</text>
<line x1="499.40" y1="252.60" x2="499.40" y2="256.60" stroke="#000" stroke-width="1.2"/>
<line x1="505.68" y1="252.60" x2="505.68" y2="255.00" stroke="#000" stroke-width="1"/>
<line x1="511.97" y1="252.60" x2="511.97" y2="255.00" stroke="#000" stroke-width="1"/>
<line x1="518.25" y1="252.60" x2="518.25" y2="255.00" stroke="#000" stroke-width="1"/>
<line x1="524.53" y1="252.60" x2="524.53" y2="256.60" stroke="#000" stroke-width="1.2"/>
<line x1="530.82" y1="252.60" x2="530.82" y2="255.00" stroke="#000" stroke-width="1"/>
<line x1="537.10" y1="252.60" x2="537.10" y2="255.00" stroke="#000" stroke-width="1"/>
<line x1="543.38" y1="252.60" x2="543.38" y2="255.00" stroke="#000" stroke-width="1"/>
<line x1="549.67" y1="252.60" x2="549.67" y2="256.60" stroke="#000" stroke-width="1.2"/>
<line x1="555.95" y1="252.60" x2="555.95" y2="255.00" stroke="#000" stroke-width="1"/>
<line x1="562.23" y1="252.60" x2="562.23" y2="255.00" stroke="#000" stroke-width="1"/>
<line x1="568.52" y1="252.60" x2="568.52" y2="255.00" stroke="#000" stroke-width="1"/>
<line x1="574.80" y1="252.60" x2="574.80" y2="256.60" stroke="#000" stroke-width="1.2"/>
<text x="499.4" y="265" font-size="9.4" text-anchor="middle">0</text>
<text x="524.5333333333333" y="265" font-size="9.4" text-anchor="middle">4</text>
<text x="549.6666666666666" y="265" font-size="9.4" text-anchor="middle">8</text>
<text x="574.8" y="265" font-size="9.4" text-anchor="middle">12</text>
<text x="537.4" y="274.8" font-size="9.4" text-anchor="middle">Time (h)</text>
<text transform="translate(473.3,216.4) rotate(-90)" font-size="9.4" text-anchor="middle">OD<tspan font-size="5.6" dy="2.4">600</tspan></text>
</g>
<g id="panel-f">
<text x="9.6" y="301.1" font-size="15" font-weight="bold">f</text>
<clipPath id="clipf"><rect x="45.4" y="313.2" width="76.80000000000001" height="74.60000000000002"/></clipPath>
<polyline points="45.4,369.4 45.9,369.4 46.4,369.3 46.9,369.3 47.4,369.3 48.0,369.3 48.5,369.3 49.0,369.3 49.5,369.2 50.0,369.2 50.5,369.2 51.0,369.1 51.5,369.1 52.1,369.1 52.6,369.0 53.1,369.0 53.6,368.9 54.1,368.9 54.6,368.8 55.1,368.8 55.6,368.7 56.2,368.6 56.7,368.5 57.2,368.4 57.7,368.3 58.2,368.2 58.7,368.1 59.2,368.0 59.7,367.8 60.2,367.7 60.8,367.5 61.3,367.3 61.8,367.2 62.3,366.9 62.8,366.7 63.3,366.5 63.8,366.2 64.3,365.9 64.9,365.6 65.4,365.3 65.9,365.0 66.4,364.6 66.9,364.2 67.4,363.8 67.9,363.4 68.4,362.9 69.0,362.5 69.5,362.0 70.0,361.4 70.5,360.9 71.0,360.3 71.5,359.7 72.0,359.1 72.5,358.5 73.0,357.8 73.6,357.2 74.1,356.5 74.6,355.8 75.1,355.0 75.6,354.3 76.1,353.6 76.6,352.8 77.1,352.0 77.7,351.3 78.2,350.5 78.7,349.7 79.2,348.9 79.7,348.1 80.2,347.3 80.7,346.6 81.2,345.8 81.8,345.0 82.3,344.2 82.8,343.4 83.3,342.7 83.8,341.9 84.3,341.2 84.8,340.5 85.3,339.7 85.8,339.1 86.4,338.4 86.9,337.7 87.4,337.1 87.9,336.4 88.4,335.8 88.9,335.3 89.4,334.7 89.9,334.2 90.5,333.7 91.0,333.2 91.5,332.7 92.0,332.3 92.5,331.8 93.0,331.5 93.5,331.1 94.0,330.7 94.6,330.4 95.1,330.1 95.6,329.8 96.1,329.5 96.6,329.3 97.1,329.0 97.6,328.8 98.1,328.6 98.6,328.4 99.2,328.3 99.7,328.1 100.2,328.0 100.7,327.8 101.2,327.7 101.7,327.6 102.2,327.5 102.7,327.4 103.3,327.3 103.8,327.2 104.3,327.1 104.8,327.1 105.3,327.0 105.8,327.0 106.3,326.9 106.8,326.9 107.4,326.8 107.9,326.8 108.4,326.7 108.9,326.7 109.4,326.7 109.9,326.7 110.4,326.6 110.9,326.6 111.4,326.6 112.0,326.6 112.5,326.6 113.0,326.5 113.5,326.5 114.0,326.5 114.5,326.5 115.0,326.5 115.5,326.5 116.1,326.5 116.6,326.5 117.1,326.5 117.6,326.4 118.1,326.4 118.6,326.4 119.1,326.4 119.6,326.4 120.2,326.4 120.7,326.4 121.2,326.4 121.7,326.4 122.2,326.4" fill="none" stroke="#000" stroke-width="1.4"/>
<g clip-path="url(#clipf)">
<line x1="45.60" y1="368.40" x2="45.60" y2="372.80" stroke="#000" stroke-width="0.8"/>
<circle cx="45.60" cy="370.60" r="1.75" fill="#000"/>
<line x1="57.90" y1="364.30" x2="57.90" y2="369.50" stroke="#000" stroke-width="0.8"/>
<circle cx="57.90" cy="366.90" r="1.75" fill="#000"/>
<line x1="63.20" y1="362.00" x2="63.20" y2="366.40" stroke="#000" stroke-width="0.8"/>
<circle cx="63.20" cy="364.20" r="1.75" fill="#000"/>
<line x1="70.80" y1="358.10" x2="70.80" y2="361.30" stroke="#000" stroke-width="0.8"/>
<circle cx="70.80" cy="359.70" r="1.75" fill="#000"/>
<line x1="78.40" y1="348.90" x2="78.40" y2="354.10" stroke="#000" stroke-width="0.8"/>
<circle cx="78.40" cy="351.50" r="1.75" fill="#000"/>
<line x1="83.20" y1="336.10" x2="83.20" y2="340.90" stroke="#000" stroke-width="0.8"/>
<circle cx="83.20" cy="338.50" r="1.75" fill="#000"/>
<line x1="88.70" y1="329.80" x2="88.70" y2="336.20" stroke="#000" stroke-width="0.8"/>
<circle cx="88.70" cy="333.00" r="1.75" fill="#000"/>
<line x1="92.00" y1="333.10" x2="92.00" y2="336.10" stroke="#000" stroke-width="0.8"/>
<circle cx="92.00" cy="334.60" r="1.75" fill="#000"/>
<line x1="96.10" y1="324.20" x2="96.10" y2="329.40" stroke="#000" stroke-width="0.8"/>
<circle cx="96.10" cy="326.80" r="1.75" fill="#000"/>
<line x1="100.60" y1="322.70" x2="100.60" y2="325.70" stroke="#000" stroke-width="0.8"/>
<circle cx="100.60" cy="324.20" r="1.75" fill="#000"/>
<line x1="104.30" y1="322.90" x2="104.30" y2="327.90" stroke="#000" stroke-width="0.8"/>
<circle cx="104.30" cy="325.40" r="1.75" fill="#000"/>
<line x1="106.40" y1="321.40" x2="106.40" y2="327.00" stroke="#000" stroke-width="0.8"/>
<circle cx="106.40" cy="324.20" r="1.75" fill="#000"/>
<line x1="107.80" y1="323.00" x2="107.80" y2="328.60" stroke="#000" stroke-width="0.8"/>
<circle cx="107.80" cy="325.80" r="1.75" fill="#000"/>
<line x1="110.90" y1="329.70" x2="110.90" y2="332.10" stroke="#000" stroke-width="0.8"/>
<circle cx="110.90" cy="330.90" r="1.75" fill="#000"/>
<line x1="113.60" y1="318.70" x2="113.60" y2="323.90" stroke="#000" stroke-width="0.8"/>
<circle cx="113.60" cy="321.30" r="1.75" fill="#000"/>
<line x1="121.10" y1="319.90" x2="121.10" y2="324.30" stroke="#000" stroke-width="0.8"/>
<circle cx="121.10" cy="322.10" r="1.75" fill="#000"/>
</g>
<path d="M45.4,313.2 H122.2 V387.8" fill="none" stroke="#000" stroke-width="1"/>
<line x1="45.10" y1="387.80" x2="122.70" y2="387.80" stroke="#000" stroke-width="1.3"/>
<line x1="45.40" y1="312.70" x2="45.40" y2="388.45" stroke="#000" stroke-width="1.6"/>
<line x1="40.50" y1="387.80" x2="44.70" y2="387.80" stroke="#000" stroke-width="1.1"/>
<line x1="42.50" y1="380.31" x2="44.70" y2="380.31" stroke="#000" stroke-width="0.8"/>
<line x1="42.50" y1="375.94" x2="44.70" y2="375.94" stroke="#000" stroke-width="0.8"/>
<line x1="42.50" y1="372.83" x2="44.70" y2="372.83" stroke="#000" stroke-width="0.8"/>
<line x1="42.50" y1="370.42" x2="44.70" y2="370.42" stroke="#000" stroke-width="0.8"/>
<line x1="42.50" y1="368.45" x2="44.70" y2="368.45" stroke="#000" stroke-width="0.8"/>
<line x1="42.50" y1="366.79" x2="44.70" y2="366.79" stroke="#000" stroke-width="0.8"/>
<line x1="42.50" y1="365.34" x2="44.70" y2="365.34" stroke="#000" stroke-width="0.8"/>
<line x1="42.50" y1="364.07" x2="44.70" y2="364.07" stroke="#000" stroke-width="0.8"/>
<line x1="40.50" y1="362.93" x2="44.70" y2="362.93" stroke="#000" stroke-width="1.1"/>
<line x1="42.50" y1="355.45" x2="44.70" y2="355.45" stroke="#000" stroke-width="0.8"/>
<line x1="42.50" y1="351.07" x2="44.70" y2="351.07" stroke="#000" stroke-width="0.8"/>
<line x1="42.50" y1="347.96" x2="44.70" y2="347.96" stroke="#000" stroke-width="0.8"/>
<line x1="42.50" y1="345.55" x2="44.70" y2="345.55" stroke="#000" stroke-width="0.8"/>
<line x1="42.50" y1="343.58" x2="44.70" y2="343.58" stroke="#000" stroke-width="0.8"/>
<line x1="42.50" y1="341.92" x2="44.70" y2="341.92" stroke="#000" stroke-width="0.8"/>
<line x1="42.50" y1="340.48" x2="44.70" y2="340.48" stroke="#000" stroke-width="0.8"/>
<line x1="42.50" y1="339.20" x2="44.70" y2="339.20" stroke="#000" stroke-width="0.8"/>
<line x1="40.50" y1="338.07" x2="44.70" y2="338.07" stroke="#000" stroke-width="1.1"/>
<line x1="42.50" y1="330.58" x2="44.70" y2="330.58" stroke="#000" stroke-width="0.8"/>
<line x1="42.50" y1="326.20" x2="44.70" y2="326.20" stroke="#000" stroke-width="0.8"/>
<line x1="42.50" y1="323.10" x2="44.70" y2="323.10" stroke="#000" stroke-width="0.8"/>
<line x1="42.50" y1="320.69" x2="44.70" y2="320.69" stroke="#000" stroke-width="0.8"/>
<line x1="42.50" y1="318.72" x2="44.70" y2="318.72" stroke="#000" stroke-width="0.8"/>
<line x1="42.50" y1="317.05" x2="44.70" y2="317.05" stroke="#000" stroke-width="0.8"/>
<line x1="42.50" y1="315.61" x2="44.70" y2="315.61" stroke="#000" stroke-width="0.8"/>
<line x1="42.50" y1="314.34" x2="44.70" y2="314.34" stroke="#000" stroke-width="0.8"/>
<line x1="40.50" y1="313.20" x2="44.70" y2="313.20" stroke="#000" stroke-width="1.1"/>
<line x1="45.40" y1="388.20" x2="45.40" y2="391.80" stroke="#000" stroke-width="1.2"/>
<line x1="53.11" y1="388.20" x2="53.11" y2="390.40" stroke="#000" stroke-width="1"/>
<line x1="57.61" y1="388.20" x2="57.61" y2="390.40" stroke="#000" stroke-width="1"/>
<line x1="60.81" y1="388.20" x2="60.81" y2="390.40" stroke="#000" stroke-width="1"/>
<line x1="63.29" y1="388.20" x2="63.29" y2="390.40" stroke="#000" stroke-width="1"/>
<line x1="65.32" y1="388.20" x2="65.32" y2="390.40" stroke="#000" stroke-width="1"/>
<line x1="67.03" y1="388.20" x2="67.03" y2="390.40" stroke="#000" stroke-width="1"/>
<line x1="68.52" y1="388.20" x2="68.52" y2="390.40" stroke="#000" stroke-width="1"/>
<line x1="69.83" y1="388.20" x2="69.83" y2="390.40" stroke="#000" stroke-width="1"/>
<line x1="71.00" y1="388.20" x2="71.00" y2="391.80" stroke="#000" stroke-width="1.2"/>
<line x1="78.71" y1="388.20" x2="78.71" y2="390.40" stroke="#000" stroke-width="1"/>
<line x1="83.21" y1="388.20" x2="83.21" y2="390.40" stroke="#000" stroke-width="1"/>
<line x1="86.41" y1="388.20" x2="86.41" y2="390.40" stroke="#000" stroke-width="1"/>
<line x1="88.89" y1="388.20" x2="88.89" y2="390.40" stroke="#000" stroke-width="1"/>
<line x1="90.92" y1="388.20" x2="90.92" y2="390.40" stroke="#000" stroke-width="1"/>
<line x1="92.63" y1="388.20" x2="92.63" y2="390.40" stroke="#000" stroke-width="1"/>
<line x1="94.12" y1="388.20" x2="94.12" y2="390.40" stroke="#000" stroke-width="1"/>
<line x1="95.43" y1="388.20" x2="95.43" y2="390.40" stroke="#000" stroke-width="1"/>
<line x1="96.60" y1="388.20" x2="96.60" y2="391.80" stroke="#000" stroke-width="1.2"/>
<line x1="104.31" y1="388.20" x2="104.31" y2="390.40" stroke="#000" stroke-width="1"/>
<line x1="108.81" y1="388.20" x2="108.81" y2="390.40" stroke="#000" stroke-width="1"/>
<line x1="112.01" y1="388.20" x2="112.01" y2="390.40" stroke="#000" stroke-width="1"/>
<line x1="114.49" y1="388.20" x2="114.49" y2="390.40" stroke="#000" stroke-width="1"/>
<line x1="116.52" y1="388.20" x2="116.52" y2="390.40" stroke="#000" stroke-width="1"/>
<line x1="118.23" y1="388.20" x2="118.23" y2="390.40" stroke="#000" stroke-width="1"/>
<line x1="119.72" y1="388.20" x2="119.72" y2="390.40" stroke="#000" stroke-width="1"/>
<line x1="121.03" y1="388.20" x2="121.03" y2="390.40" stroke="#000" stroke-width="1"/>
<line x1="122.20" y1="388.20" x2="122.20" y2="391.80" stroke="#000" stroke-width="1.2"/>
<text x="37.62" y="392.00" font-size="10.3" text-anchor="end">10</text>
<text x="37.82" y="387.80" font-size="5.0">2</text>
<text x="37.62" y="367.13" font-size="10.3" text-anchor="end">10</text>
<text x="37.82" y="362.93" font-size="5.0">3</text>
<text x="37.62" y="342.27" font-size="10.3" text-anchor="end">10</text>
<text x="37.82" y="338.07" font-size="5.0">4</text>
<text x="37.62" y="317.40" font-size="10.3" text-anchor="end">10</text>
<text x="37.82" y="313.20" font-size="5.0">5</text>
<text x="48.24" y="399.20" font-size="10.2" text-anchor="end">10</text>
<text x="48.44" y="395.00" font-size="5.0">-1</text>
<text x="74.68" y="399.20" font-size="10.2" text-anchor="end">10</text>
<text x="74.88" y="395.00" font-size="5.0">0</text>
<text x="100.28" y="399.20" font-size="10.2" text-anchor="end">10</text>
<text x="100.48" y="395.00" font-size="5.0">1</text>
<text x="125.88" y="399.20" font-size="10.2" text-anchor="end">10</text>
<text x="126.08" y="395.00" font-size="5.0">2</text>
<text transform="translate(13.9,350.6) rotate(-90)" font-size="9.4" text-anchor="middle">Fluorescence</text>
<text transform="translate(23.6,350.6) rotate(-90)" font-size="9.4" text-anchor="middle">(sfGFP, MEFL)</text>
<text x="78.6" y="365.4" font-size="9.4">n = 2.09</text>
<text x="78.6" y="375.2" font-size="9.4">K = 5.75</text>
<text x="76.2" y="384" font-size="9.4">µmol/m<tspan font-size="5.2" dy="-3.4">2</tspan><tspan dy="3.4">/s</tspan></text>
<text x="81" y="410.2" font-size="9.4" text-anchor="middle">Intensity</text>
<text x="86.4" y="420.5" font-size="9.4" text-anchor="middle">(520nm, µmol m<tspan font-size="5.2" dy="-3.4">-2</tspan><tspan dy="3.4"> s</tspan><tspan font-size="5.2" dy="-3.4">-1</tspan><tspan dy="3.4">)</tspan></text>
</g>
<g id="panel-g">
<text x="135" y="301.1" font-size="15" font-weight="bold">g</text>
<line x1="171.00" y1="370.60" x2="244.70" y2="370.60" stroke="#000" stroke-width="1.4"/>
<line x1="171.20" y1="368.80" x2="171.20" y2="375.20" stroke="#000" stroke-width="0.9"/>
<circle cx="171.20" cy="372.00" r="1.9" fill="#000"/>
<line x1="176.70" y1="369.40" x2="176.70" y2="371.40" stroke="#000" stroke-width="0.9"/>
<circle cx="176.70" cy="370.40" r="1.9" fill="#000"/>
<line x1="182.50" y1="369.60" x2="182.50" y2="371.60" stroke="#000" stroke-width="0.9"/>
<circle cx="182.50" cy="370.60" r="1.9" fill="#000"/>
<line x1="188.20" y1="369.60" x2="188.20" y2="374.80" stroke="#000" stroke-width="0.9"/>
<circle cx="188.20" cy="372.20" r="1.9" fill="#000"/>
<line x1="194.20" y1="369.80" x2="194.20" y2="372.20" stroke="#000" stroke-width="0.9"/>
<circle cx="194.20" cy="371.00" r="1.9" fill="#000"/>
<line x1="217.40" y1="367.90" x2="217.40" y2="371.10" stroke="#000" stroke-width="0.9"/>
<circle cx="217.40" cy="369.50" r="1.9" fill="#000"/>
<line x1="241.00" y1="367.60" x2="241.00" y2="372.40" stroke="#000" stroke-width="0.9"/>
<circle cx="241.00" cy="370.00" r="1.9" fill="#000"/>
<polyline points="171.2,372.0 171.8,370.8 172.4,369.7 172.9,368.7 173.5,367.7 174.1,366.8 174.7,366.0 175.3,365.2 175.9,364.4 176.4,363.7 177.0,363.0 177.6,362.3 178.2,361.7 178.8,361.1 179.3,360.5 179.9,360.0 180.5,359.5 181.1,359.0 181.7,358.5 182.3,358.0 182.8,357.6 183.4,357.2 184.0,356.8 184.6,356.4 185.2,356.0 185.7,355.6 186.3,355.3 186.9,355.0 187.5,354.6 188.1,354.3 188.6,354.0 189.2,353.7 189.8,353.4 190.4,353.2 191.0,352.9 191.6,352.7 192.1,352.4 192.7,352.2 193.3,351.9 193.9,351.7 194.5,351.5 195.0,351.3 195.6,351.1 196.2,350.9 196.8,350.7 197.4,350.5 198.0,350.3 198.5,350.1 199.1,349.9 199.7,349.8 200.3,349.6 200.9,349.4 201.4,349.3 202.0,349.1 202.6,348.9 203.2,348.8 203.8,348.7 204.4,348.5 204.9,348.4 205.5,348.2 206.1,348.1 206.7,348.0 207.3,347.9 207.8,347.7 208.4,347.6 209.0,347.5 209.6,347.4 210.2,347.3 210.8,347.1 211.3,347.0 211.9,346.9 212.5,346.8 213.1,346.7 213.7,346.6 214.2,346.5 214.8,346.4 215.4,346.3 216.0,346.2 216.6,346.1 217.2,346.1 217.7,346.0 218.3,345.9 218.9,345.8 219.5,345.7 220.1,345.6 220.6,345.5 221.2,345.5 221.8,345.4 222.4,345.3 223.0,345.2 223.5,345.2 224.1,345.1 224.7,345.0 225.3,345.0 225.9,344.9 226.5,344.8 227.0,344.7 227.6,344.7 228.2,344.6 228.8,344.6 229.4,344.5 229.9,344.4 230.5,344.4 231.1,344.3 231.7,344.2 232.3,344.2 232.9,344.1 233.4,344.1 234.0,344.0 234.6,344.0 235.2,343.9 235.8,343.9 236.3,343.8 236.9,343.8 237.5,343.7 238.1,343.6 238.7,343.6 239.3,343.5 239.8,343.5 240.4,343.5 241.0,343.4 241.6,343.4 242.2,343.3 242.7,343.3 243.3,343.2 243.9,343.2" fill="none" stroke="#17994f" stroke-width="1.4"/>
<line x1="171.20" y1="369.50" x2="171.20" y2="374.50" stroke="#17994f" stroke-width="0.9"/>
<circle cx="171.20" cy="372.00" r="1.9" fill="#17994f"/>
<line x1="176.70" y1="363.40" x2="176.70" y2="367.40" stroke="#17994f" stroke-width="0.9"/>
<circle cx="176.70" cy="365.40" r="1.9" fill="#17994f"/>
<line x1="182.50" y1="357.70" x2="182.50" y2="364.90" stroke="#17994f" stroke-width="0.9"/>
<circle cx="182.50" cy="361.30" r="1.9" fill="#17994f"/>
<line x1="188.20" y1="347.80" x2="188.20" y2="352.20" stroke="#17994f" stroke-width="0.9"/>
<circle cx="188.20" cy="350.00" r="1.9" fill="#17994f"/>
<circle cx="194.20" cy="354.10" r="1.9" fill="#17994f"/>
<line x1="217.40" y1="340.20" x2="217.40" y2="345.40" stroke="#17994f" stroke-width="0.9"/>
<circle cx="217.40" cy="342.80" r="1.9" fill="#17994f"/>
<line x1="241.00" y1="339.20" x2="241.00" y2="344.00" stroke="#17994f" stroke-width="0.9"/>
<circle cx="241.00" cy="341.60" r="1.9" fill="#17994f"/>
<line x1="194.20" y1="347.40" x2="194.20" y2="370.00" stroke="#17994f" stroke-width="0.9"/>
<path d="M168.6,313.6 H244.7 V388" fill="none" stroke="#000" stroke-width="1"/>
<line x1="168.30" y1="388.00" x2="245.20" y2="388.00" stroke="#000" stroke-width="1.3"/>
<line x1="168.60" y1="313.10" x2="168.60" y2="388.65" stroke="#000" stroke-width="1.6"/>
<line x1="163.70" y1="388.00" x2="167.90" y2="388.00" stroke="#000" stroke-width="1.1"/>
<line x1="165.70" y1="380.53" x2="167.90" y2="380.53" stroke="#000" stroke-width="0.8"/>
<line x1="165.70" y1="376.17" x2="167.90" y2="376.17" stroke="#000" stroke-width="0.8"/>
<line x1="165.70" y1="373.07" x2="167.90" y2="373.07" stroke="#000" stroke-width="0.8"/>
<line x1="165.70" y1="370.67" x2="167.90" y2="370.67" stroke="#000" stroke-width="0.8"/>
<line x1="165.70" y1="368.70" x2="167.90" y2="368.70" stroke="#000" stroke-width="0.8"/>
<line x1="165.70" y1="367.04" x2="167.90" y2="367.04" stroke="#000" stroke-width="0.8"/>
<line x1="165.70" y1="365.60" x2="167.90" y2="365.60" stroke="#000" stroke-width="0.8"/>
<line x1="165.70" y1="364.33" x2="167.90" y2="364.33" stroke="#000" stroke-width="0.8"/>
<line x1="163.70" y1="363.20" x2="167.90" y2="363.20" stroke="#000" stroke-width="1.1"/>
<line x1="165.70" y1="355.73" x2="167.90" y2="355.73" stroke="#000" stroke-width="0.8"/>
<line x1="165.70" y1="351.37" x2="167.90" y2="351.37" stroke="#000" stroke-width="0.8"/>
<line x1="165.70" y1="348.27" x2="167.90" y2="348.27" stroke="#000" stroke-width="0.8"/>
<line x1="165.70" y1="345.87" x2="167.90" y2="345.87" stroke="#000" stroke-width="0.8"/>
<line x1="165.70" y1="343.90" x2="167.90" y2="343.90" stroke="#000" stroke-width="0.8"/>
<line x1="165.70" y1="342.24" x2="167.90" y2="342.24" stroke="#000" stroke-width="0.8"/>
<line x1="165.70" y1="340.80" x2="167.90" y2="340.80" stroke="#000" stroke-width="0.8"/>
<line x1="165.70" y1="339.53" x2="167.90" y2="339.53" stroke="#000" stroke-width="0.8"/>
<line x1="163.70" y1="338.40" x2="167.90" y2="338.40" stroke="#000" stroke-width="1.1"/>
<line x1="165.70" y1="330.93" x2="167.90" y2="330.93" stroke="#000" stroke-width="0.8"/>
<line x1="165.70" y1="326.57" x2="167.90" y2="326.57" stroke="#000" stroke-width="0.8"/>
<line x1="165.70" y1="323.47" x2="167.90" y2="323.47" stroke="#000" stroke-width="0.8"/>
<line x1="165.70" y1="321.07" x2="167.90" y2="321.07" stroke="#000" stroke-width="0.8"/>
<line x1="165.70" y1="319.10" x2="167.90" y2="319.10" stroke="#000" stroke-width="0.8"/>
<line x1="165.70" y1="317.44" x2="167.90" y2="317.44" stroke="#000" stroke-width="0.8"/>
<line x1="165.70" y1="316.00" x2="167.90" y2="316.00" stroke="#000" stroke-width="0.8"/>
<line x1="165.70" y1="314.73" x2="167.90" y2="314.73" stroke="#000" stroke-width="0.8"/>
<line x1="163.70" y1="313.60" x2="167.90" y2="313.60" stroke="#000" stroke-width="1.1"/>
<text x="160.82" y="392.20" font-size="10.3" text-anchor="end">10</text>
<text x="161.02" y="388.00" font-size="5.0">2</text>
<text x="160.82" y="367.40" font-size="10.3" text-anchor="end">10</text>
<text x="161.02" y="363.20" font-size="5.0">3</text>
<text x="160.82" y="342.60" font-size="10.3" text-anchor="end">10</text>
<text x="161.02" y="338.40" font-size="5.0">4</text>
<text x="160.82" y="317.80" font-size="10.3" text-anchor="end">10</text>
<text x="161.02" y="313.60" font-size="5.0">5</text>
<line x1="171.20" y1="388.00" x2="171.20" y2="391.60" stroke="#000" stroke-width="1.2"/>
<text x="171.2" y="401" font-size="9.4" text-anchor="middle">0</text>
<line x1="194.47" y1="388.00" x2="194.47" y2="391.60" stroke="#000" stroke-width="1.2"/>
<text x="194.46666666666667" y="401" font-size="9.4" text-anchor="middle">8</text>
<line x1="217.73" y1="388.00" x2="217.73" y2="391.60" stroke="#000" stroke-width="1.2"/>
<text x="217.73333333333332" y="401" font-size="9.4" text-anchor="middle">16</text>
<line x1="241.00" y1="388.00" x2="241.00" y2="391.60" stroke="#000" stroke-width="1.2"/>
<text x="241.0" y="401" font-size="9.4" text-anchor="middle">24</text>
<text transform="translate(135.6,350.6) rotate(-90)" font-size="9.4" text-anchor="middle">Fluorescence</text>
<text transform="translate(145.0,350.6) rotate(-90)" font-size="9.4" text-anchor="middle">(sfGFP, MEFL)</text>
<circle cx="172.70" cy="319.20" r="2.3" fill="#000"/>
<circle cx="172.70" cy="329.50" r="2.3" fill="#17994f"/>
<text x="177.2" y="322.1" font-size="9.4">0 µmol m<tspan font-size="5.2" dy="-3.4">-2</tspan><tspan dy="3.4"> s</tspan><tspan font-size="5.2" dy="-3.4">-1</tspan></text>
<text x="177.2" y="332.6" font-size="9.4">10<tspan dx="-1.2"> </tspan>µmol m<tspan font-size="5.2" dy="-3.4">-2</tspan><tspan dy="3.4"> s</tspan><tspan font-size="5.2" dy="-3.4">-1</tspan></text>
<text x="206" y="410.6" font-size="9.4" text-anchor="middle">Time in</text>
<text x="207.8" y="420.8" font-size="9.4" text-anchor="middle">stationary phase (h)</text>
</g>
<g id="panel-h">
<text x="258" y="301.5" font-size="15" font-weight="bold">h</text>
<text x="328.5" y="300.2" font-size="9.4">CcaSR<tspan font-size="5.8" dy="2.8">stat</tspan></text>
<text x="286" y="311" font-size="9.3" font-weight="bold">Exponential</text>
<text x="364.6" y="311" font-size="9.3" font-weight="bold">Stationary</text>
<clipPath id="cliph1"><rect x="275.6" y="315.4" width="76.19999999999999" height="75.10000000000001"/></clipPath>
<clipPath id="cliph2"><rect x="351.8" y="315.4" width="75.89999999999998" height="75.10000000000001"/></clipPath>
<g clip-path="url(#cliph1)">
<polyline points="277.00,390.04 277.25,390.01 277.50,389.98 277.75,389.95 278.00,389.91 278.25,389.87 278.50,389.83 278.75,389.79 279.00,389.75 279.25,389.71 279.50,389.66 279.75,389.62 280.00,389.57 280.25,389.53 280.50,389.48 280.75,389.44 281.00,389.39 281.25,389.35 281.50,389.31 281.75,389.28 282.00,389.24 282.25,389.21 282.50,389.18 282.75,389.16 283.00,389.14 283.50,389.11 285.00,389.14 285.25,389.16 285.50,389.18 285.75,389.21 286.00,389.24 286.25,389.28 286.50,389.31 286.75,389.35 287.00,389.39 287.25,389.44 287.50,389.48 287.75,389.53 288.00,389.57 288.25,389.62 288.50,389.66 288.75,389.71 289.00,389.75 289.25,389.79 289.50,389.82 289.75,389.85 290.00,389.88 290.25,389.88 290.50,389.86 290.75,389.80 291.00,389.67 291.25,389.44 291.50,389.08 291.75,388.52 292.00,387.70 292.25,386.55 292.50,385.01 292.75,383.01 293.00,380.52 293.25,377.51 293.50,373.88 293.75,369.39 294.00,363.62 294.25,356.19 294.50,347.30 294.75,338.34 295.00,331.82 295.25,330.09 295.50,333.61 295.75,340.81 296.00,349.16 296.25,356.62 296.50,362.43 296.75,366.81 297.00,370.31 297.25,373.31 297.50,376.00 297.75,378.39 298.00,380.48 298.25,382.25 298.50,383.71 298.75,384.86 299.00,385.75 299.25,386.40 299.50,386.87 299.75,387.19 300.00,387.39 300.25,387.52 300.50,387.58 300.75,387.62 301.25,387.65 301.50,387.67 301.75,387.69 302.00,387.72 302.25,387.76 302.50,387.82 302.75,387.89 303.00,387.97 303.25,388.06 303.50,388.16 303.75,388.27 304.00,388.38 304.25,388.50 304.50,388.62 304.75,388.75 305.00,388.87 305.25,388.99 305.50,389.11 305.75,389.22 306.00,389.33 306.25,389.44 306.50,389.53 306.75,389.62 307.00,389.71 307.25,389.78 307.50,389.85 307.75,389.91 308.00,389.97 308.25,390.02 308.50,390.06 308.75,390.10 309.00,390.13 309.25,390.16 309.50,390.19 309.75,390.21 310.00,390.22" fill="#90ee90" stroke="#90ee90" stroke-width="2.8" stroke-linejoin="round" stroke-linecap="round"/>
<polyline points="278.00,390.29 279.50,390.27 280.25,390.24 280.75,390.21 281.00,390.19 281.25,390.17 281.50,390.15 281.75,390.12 282.00,390.08 282.25,390.05 282.50,390.00 282.75,389.95 283.00,389.90 283.25,389.84 283.50,389.78 283.75,389.71 284.00,389.64 284.25,389.57 284.50,389.49 284.75,389.41 285.00,389.33 285.25,389.25 285.50,389.17 285.75,389.09 286.00,389.02 286.25,388.95 286.50,388.89 286.75,388.83 287.00,388.79 287.25,388.75 287.50,388.72 288.00,388.70 288.50,388.72 288.75,388.75 289.00,388.78 289.25,388.82 289.50,388.85 289.75,388.88 290.00,388.89 290.25,388.85 290.50,388.75 290.75,388.53 291.00,388.15 291.25,387.53 291.50,386.61 291.75,385.30 292.00,383.52 292.25,381.22 292.50,378.38 292.75,374.93 293.00,370.70 293.25,365.14 293.50,357.42 293.75,347.05 294.00,335.12 294.25,325.04 294.50,321.03 294.75,325.03 295.00,335.09 295.25,347.00 295.50,357.36 295.75,365.05 296.00,370.58 296.25,374.78 296.50,378.19 296.75,380.99 297.00,383.25 297.25,384.99 297.50,386.28 297.75,387.18 298.00,387.79 298.25,388.18 298.50,388.42 298.75,388.57 299.00,388.67 299.25,388.74 299.50,388.81 299.75,388.88 300.00,388.97 300.25,389.06 300.50,389.17 300.75,389.28 301.00,389.39 301.25,389.50 301.50,389.61 301.75,389.72 302.00,389.81 302.25,389.90 302.50,389.98 302.75,390.04 303.00,390.10 303.25,390.14 303.50,390.18 303.75,390.21 304.00,390.23" fill="#fa8072" stroke="#fa8072" stroke-width="2.8" stroke-linejoin="round" stroke-linecap="round"/>
</g>
<g clip-path="url(#cliph2)">
<polyline points="364.00,390.21 364.25,390.16 364.50,390.09 364.75,389.99 365.00,389.83 365.25,389.62 365.50,389.32 365.75,388.92 366.00,388.38 366.25,387.68 366.50,386.79 366.75,385.68 367.00,384.32 367.25,382.69 367.50,380.79 367.75,378.61 368.00,376.19 368.25,373.55 368.50,370.75 368.75,367.86 369.00,364.87 369.25,361.55 369.50,357.19 369.75,350.66 370.00,341.45 370.25,331.42 370.50,324.94 370.75,325.73 371.00,333.30 371.25,343.46 371.50,352.18 371.75,358.20 372.00,362.26 372.25,365.48 372.50,368.44 372.75,371.32 373.00,374.09 373.25,376.69 373.50,379.07 373.75,381.19 374.00,383.04 374.25,384.61 374.50,385.92 374.75,386.99 375.00,387.84 375.25,388.50 375.50,389.01 375.75,389.39 376.00,389.67 376.25,389.87 376.50,390.01 376.75,390.11 377.00,390.18" fill="#dedede" stroke="#dedede" stroke-width="2.6" stroke-linejoin="round" stroke-linecap="round"/>
<polyline points="369.00,390.11 369.25,390.07 369.50,390.02 369.75,389.97 370.00,389.91 370.25,389.85 370.50,389.78 370.75,389.69 371.00,389.61 371.25,389.51 371.50,389.40 371.75,389.29 372.00,389.17 372.25,389.04 372.50,388.90 372.75,388.76 373.00,388.62 373.25,388.47 373.50,388.32 373.75,388.18 374.00,388.03 374.25,387.89 374.50,387.76 374.75,387.64 375.00,387.52 375.25,387.42 375.50,387.33 375.75,387.25 376.00,387.19 376.25,387.15 376.50,387.12 377.25,387.13 377.50,387.16 377.75,387.20 378.00,387.26 378.25,387.32 378.50,387.40 378.75,387.47 379.00,387.56 379.25,387.65 379.50,387.74 379.75,387.83 380.00,387.92 380.25,388.01 380.50,388.09 380.75,388.17 381.00,388.25 381.25,388.32 381.50,388.38 381.75,388.43 382.00,388.47 382.25,388.51 382.50,388.54 382.75,388.56 384.25,388.54 384.50,388.51 384.75,388.48 385.00,388.45 385.25,388.41 385.50,388.37 385.75,388.32 386.00,388.27 386.25,388.22 386.50,388.16 386.75,388.10 387.00,388.04 387.25,387.97 387.50,387.90 387.75,387.82 388.00,387.74 388.25,387.65 388.50,387.56 388.75,387.46 389.00,387.35 389.25,387.23 389.50,387.10 389.75,386.97 390.00,386.82 390.25,386.67 390.50,386.50 390.75,386.32 391.00,386.13 391.25,385.93 391.50,385.71 391.75,385.48 392.00,385.23 392.25,384.97 392.50,384.70 392.75,384.41 393.00,384.11 393.25,383.80 393.50,383.47 393.75,383.14 394.00,382.79 394.25,382.43 394.50,382.06 394.75,381.68 395.00,381.29 395.25,380.90 395.50,380.51 395.75,380.11 396.00,379.72 396.25,379.32 396.50,378.93 396.75,378.54 397.00,378.16 397.25,377.78 397.50,377.42 397.75,377.07 398.00,376.74 398.25,376.42 398.50,376.12 398.75,375.84 399.00,375.58 399.25,375.35 399.50,375.14 399.75,374.96 400.00,374.80 400.25,374.68 400.50,374.58 400.75,374.51 401.00,374.47 401.25,374.47 401.50,374.58 401.75,374.85 402.00,375.26 402.25,375.80 402.50,376.46 402.75,377.22 403.00,378.06 403.25,378.96 403.50,379.89 403.75,380.84 404.00,381.78 404.25,382.69 404.50,383.57 404.75,384.40 405.00,385.16 405.25,385.85 405.50,386.48 405.75,387.02 406.00,387.50 406.25,387.90 406.50,388.24 406.75,388.52 407.00,388.73 407.25,388.90 407.50,389.03 407.75,389.12 408.00,389.18 408.25,389.22 409.25,389.20 409.50,389.18 409.75,389.15 410.00,389.13 410.50,389.10 412.00,389.14 412.25,389.16 412.50,389.18 412.75,389.21 413.00,389.24 413.25,389.28 413.50,389.31 413.75,389.35 414.00,389.39 414.25,389.44 414.50,389.48 414.75,389.53 415.00,389.57 415.25,389.62 415.50,389.66 415.75,389.71 416.00,389.75 416.25,389.79 416.50,389.83 416.75,389.87 417.00,389.91 417.25,389.95 417.50,389.98 417.75,390.01 418.00,390.04 418.25,390.07 418.50,390.09 418.75,390.12 419.00,390.14 419.50,390.17 420.00,390.20" fill="none" stroke="#90ee90" stroke-width="3.1" stroke-linejoin="round" stroke-linecap="round"/>
<polyline points="366.00,390.30 368.75,390.27 369.00,390.25 369.25,390.21 369.50,390.13 369.75,389.98 370.00,389.73 370.25,389.32 370.50,388.67 370.75,387.69 371.00,386.28 371.25,384.34 371.50,381.79 371.75,378.62 372.00,374.87 372.25,370.68 372.50,366.31 372.75,362.07 373.00,358.33 373.25,355.45 373.50,353.72 373.75,353.23 374.00,353.63 374.25,354.84 374.50,356.66 374.75,358.90 375.00,361.44 375.25,364.16 375.50,366.91 375.75,369.61 376.00,372.14 376.25,374.46 376.50,376.52 376.75,378.31 377.00,379.82 377.25,381.09 377.50,382.13 377.75,382.97 378.00,383.67 378.25,384.23 378.50,384.70 378.75,385.09 379.00,385.43 379.25,385.73 379.50,386.00 379.75,386.25 380.00,386.48 380.25,386.69 380.50,386.90 380.75,387.09 381.00,387.28 381.25,387.45 381.50,387.61 381.75,387.77 382.00,387.91 382.25,388.05 382.50,388.17 382.75,388.28 383.00,388.39 383.25,388.49 383.50,388.57 383.75,388.65 384.00,388.72 384.25,388.79 384.50,388.85 384.75,388.90 385.00,388.94 385.25,388.98 385.50,389.02 385.75,389.05 386.00,389.07 386.25,389.10 386.50,389.12 387.00,389.16 387.50,389.19 388.00,389.22 388.50,389.25 388.75,389.27 389.00,389.29 389.25,389.31 389.50,389.34 389.75,389.37 390.00,389.40 390.25,389.43 390.50,389.46 390.75,389.50 391.00,389.54 391.25,389.57 391.50,389.61 391.75,389.65 392.00,389.69 392.25,389.73 392.50,389.77 392.75,389.80 393.00,389.84 393.25,389.88 393.50,389.91 393.75,389.94 394.00,389.97 394.25,390.00 394.50,390.03 394.75,390.06 395.00,390.08 395.25,390.11 395.50,390.13 396.00,390.16 396.50,390.20 397.00,390.22" fill="none" stroke="#fa8072" stroke-width="3.0" stroke-linejoin="round" stroke-linecap="round"/>
</g>
<rect x="374.6" y="315.4" width="53.099999999999966" height="29.5" fill="#fff" stroke="#000" stroke-width="1"/>
<line x1="375.80" y1="319.70" x2="384.60" y2="319.70" stroke="#d3d3d3" stroke-width="1.2"/>
<line x1="375.80" y1="328.50" x2="384.60" y2="328.50" stroke="#fa8072" stroke-width="1.2"/>
<line x1="375.80" y1="337.40" x2="384.60" y2="337.40" stroke="#90ee90" stroke-width="1.2"/>
<text x="387.4" y="322.7" font-size="9.2">autofluor.</text>
<text x="387.4" y="331.8" font-size="9.2">red</text>
<text x="387.4" y="341.3" font-size="9.2">green</text>
<rect x="275.6" y="315.4" width="152.09999999999997" height="74.80000000000001" fill="none" stroke="#000" stroke-width="1.1"/>
<line x1="351.80" y1="315.40" x2="351.80" y2="390.20" stroke="#000" stroke-width="1.2"/>
<line x1="275.60" y1="390.20" x2="275.60" y2="393.70" stroke="#000" stroke-width="1.0"/>
<line x1="279.56" y1="390.20" x2="279.56" y2="392.30" stroke="#000" stroke-width="0.8"/>
<line x1="281.87" y1="390.20" x2="281.87" y2="392.30" stroke="#000" stroke-width="0.8"/>
<line x1="283.52" y1="390.20" x2="283.52" y2="392.30" stroke="#000" stroke-width="0.8"/>
<line x1="284.79" y1="390.20" x2="284.79" y2="392.30" stroke="#000" stroke-width="0.8"/>
<line x1="285.83" y1="390.20" x2="285.83" y2="392.30" stroke="#000" stroke-width="0.8"/>
<line x1="286.71" y1="390.20" x2="286.71" y2="392.30" stroke="#000" stroke-width="0.8"/>
<line x1="287.48" y1="390.20" x2="287.48" y2="392.30" stroke="#000" stroke-width="0.8"/>
<line x1="288.15" y1="390.20" x2="288.15" y2="392.30" stroke="#000" stroke-width="0.8"/>
<line x1="288.75" y1="390.20" x2="288.75" y2="393.70" stroke="#000" stroke-width="1.0"/>
<line x1="292.71" y1="390.20" x2="292.71" y2="392.30" stroke="#000" stroke-width="0.8"/>
<line x1="295.02" y1="390.20" x2="295.02" y2="392.30" stroke="#000" stroke-width="0.8"/>
<line x1="296.67" y1="390.20" x2="296.67" y2="392.30" stroke="#000" stroke-width="0.8"/>
<line x1="297.94" y1="390.20" x2="297.94" y2="392.30" stroke="#000" stroke-width="0.8"/>
<line x1="298.98" y1="390.20" x2="298.98" y2="392.30" stroke="#000" stroke-width="0.8"/>
<line x1="299.86" y1="390.20" x2="299.86" y2="392.30" stroke="#000" stroke-width="0.8"/>
<line x1="300.63" y1="390.20" x2="300.63" y2="392.30" stroke="#000" stroke-width="0.8"/>
<line x1="301.30" y1="390.20" x2="301.30" y2="392.30" stroke="#000" stroke-width="0.8"/>
<line x1="301.90" y1="390.20" x2="301.90" y2="393.70" stroke="#000" stroke-width="1.0"/>
<line x1="305.86" y1="390.20" x2="305.86" y2="392.30" stroke="#000" stroke-width="0.8"/>
<line x1="308.17" y1="390.20" x2="308.17" y2="392.30" stroke="#000" stroke-width="0.8"/>
<line x1="309.82" y1="390.20" x2="309.82" y2="392.30" stroke="#000" stroke-width="0.8"/>
<line x1="311.09" y1="390.20" x2="311.09" y2="392.30" stroke="#000" stroke-width="0.8"/>
<line x1="312.13" y1="390.20" x2="312.13" y2="392.30" stroke="#000" stroke-width="0.8"/>
<line x1="313.01" y1="390.20" x2="313.01" y2="392.30" stroke="#000" stroke-width="0.8"/>
<line x1="313.78" y1="390.20" x2="313.78" y2="392.30" stroke="#000" stroke-width="0.8"/>
<line x1="314.45" y1="390.20" x2="314.45" y2="392.30" stroke="#000" stroke-width="0.8"/>
<line x1="315.05" y1="390.20" x2="315.05" y2="393.70" stroke="#000" stroke-width="1.0"/>
<line x1="319.01" y1="390.20" x2="319.01" y2="392.30" stroke="#000" stroke-width="0.8"/>
<line x1="321.32" y1="390.20" x2="321.32" y2="392.30" stroke="#000" stroke-width="0.8"/>
<line x1="322.97" y1="390.20" x2="322.97" y2="392.30" stroke="#000" stroke-width="0.8"/>
<line x1="324.24" y1="390.20" x2="324.24" y2="392.30" stroke="#000" stroke-width="0.8"/>
<line x1="325.28" y1="390.20" x2="325.28" y2="392.30" stroke="#000" stroke-width="0.8"/>
<line x1="326.16" y1="390.20" x2="326.16" y2="392.30" stroke="#000" stroke-width="0.8"/>
<line x1="326.93" y1="390.20" x2="326.93" y2="392.30" stroke="#000" stroke-width="0.8"/>
<line x1="327.60" y1="390.20" x2="327.60" y2="392.30" stroke="#000" stroke-width="0.8"/>
<line x1="328.20" y1="390.20" x2="328.20" y2="393.70" stroke="#000" stroke-width="1.0"/>
<line x1="332.16" y1="390.20" x2="332.16" y2="392.30" stroke="#000" stroke-width="0.8"/>
<line x1="334.47" y1="390.20" x2="334.47" y2="392.30" stroke="#000" stroke-width="0.8"/>
<line x1="336.12" y1="390.20" x2="336.12" y2="392.30" stroke="#000" stroke-width="0.8"/>
<line x1="337.39" y1="390.20" x2="337.39" y2="392.30" stroke="#000" stroke-width="0.8"/>
<line x1="338.43" y1="390.20" x2="338.43" y2="392.30" stroke="#000" stroke-width="0.8"/>
<line x1="339.31" y1="390.20" x2="339.31" y2="392.30" stroke="#000" stroke-width="0.8"/>
<line x1="340.08" y1="390.20" x2="340.08" y2="392.30" stroke="#000" stroke-width="0.8"/>
<line x1="340.75" y1="390.20" x2="340.75" y2="392.30" stroke="#000" stroke-width="0.8"/>
<line x1="341.35" y1="390.20" x2="341.35" y2="393.70" stroke="#000" stroke-width="1.0"/>
<line x1="345.31" y1="390.20" x2="345.31" y2="392.30" stroke="#000" stroke-width="0.8"/>
<line x1="347.62" y1="390.20" x2="347.62" y2="392.30" stroke="#000" stroke-width="0.8"/>
<line x1="349.27" y1="390.20" x2="349.27" y2="392.30" stroke="#000" stroke-width="0.8"/>
<line x1="350.54" y1="390.20" x2="350.54" y2="392.30" stroke="#000" stroke-width="0.8"/>
<line x1="351.80" y1="390.20" x2="351.80" y2="393.70" stroke="#000" stroke-width="1.0"/>
<line x1="355.76" y1="390.20" x2="355.76" y2="392.30" stroke="#000" stroke-width="0.8"/>
<line x1="358.07" y1="390.20" x2="358.07" y2="392.30" stroke="#000" stroke-width="0.8"/>
<line x1="359.72" y1="390.20" x2="359.72" y2="392.30" stroke="#000" stroke-width="0.8"/>
<line x1="360.99" y1="390.20" x2="360.99" y2="392.30" stroke="#000" stroke-width="0.8"/>
<line x1="362.03" y1="390.20" x2="362.03" y2="392.30" stroke="#000" stroke-width="0.8"/>
<line x1="362.91" y1="390.20" x2="362.91" y2="392.30" stroke="#000" stroke-width="0.8"/>
<line x1="363.68" y1="390.20" x2="363.68" y2="392.30" stroke="#000" stroke-width="0.8"/>
<line x1="364.35" y1="390.20" x2="364.35" y2="392.30" stroke="#000" stroke-width="0.8"/>
<line x1="364.95" y1="390.20" x2="364.95" y2="393.70" stroke="#000" stroke-width="1.0"/>
<line x1="368.91" y1="390.20" x2="368.91" y2="392.30" stroke="#000" stroke-width="0.8"/>
<line x1="371.22" y1="390.20" x2="371.22" y2="392.30" stroke="#000" stroke-width="0.8"/>
<line x1="372.87" y1="390.20" x2="372.87" y2="392.30" stroke="#000" stroke-width="0.8"/>
<line x1="374.14" y1="390.20" x2="374.14" y2="392.30" stroke="#000" stroke-width="0.8"/>
<line x1="375.18" y1="390.20" x2="375.18" y2="392.30" stroke="#000" stroke-width="0.8"/>
<line x1="376.06" y1="390.20" x2="376.06" y2="392.30" stroke="#000" stroke-width="0.8"/>
<line x1="376.83" y1="390.20" x2="376.83" y2="392.30" stroke="#000" stroke-width="0.8"/>
<line x1="377.50" y1="390.20" x2="377.50" y2="392.30" stroke="#000" stroke-width="0.8"/>
<line x1="378.10" y1="390.20" x2="378.10" y2="393.70" stroke="#000" stroke-width="1.0"/>
<line x1="382.06" y1="390.20" x2="382.06" y2="392.30" stroke="#000" stroke-width="0.8"/>
<line x1="384.37" y1="390.20" x2="384.37" y2="392.30" stroke="#000" stroke-width="0.8"/>
<line x1="386.02" y1="390.20" x2="386.02" y2="392.30" stroke="#000" stroke-width="0.8"/>
<line x1="387.29" y1="390.20" x2="387.29" y2="392.30" stroke="#000" stroke-width="0.8"/>
<line x1="388.33" y1="390.20" x2="388.33" y2="392.30" stroke="#000" stroke-width="0.8"/>
<line x1="389.21" y1="390.20" x2="389.21" y2="392.30" stroke="#000" stroke-width="0.8"/>
<line x1="389.98" y1="390.20" x2="389.98" y2="392.30" stroke="#000" stroke-width="0.8"/>
<line x1="390.65" y1="390.20" x2="390.65" y2="392.30" stroke="#000" stroke-width="0.8"/>
<line x1="391.25" y1="390.20" x2="391.25" y2="393.70" stroke="#000" stroke-width="1.0"/>
<line x1="395.21" y1="390.20" x2="395.21" y2="392.30" stroke="#000" stroke-width="0.8"/>
<line x1="397.52" y1="390.20" x2="397.52" y2="392.30" stroke="#000" stroke-width="0.8"/>
<line x1="399.17" y1="390.20" x2="399.17" y2="392.30" stroke="#000" stroke-width="0.8"/>
<line x1="400.44" y1="390.20" x2="400.44" y2="392.30" stroke="#000" stroke-width="0.8"/>
<line x1="401.48" y1="390.20" x2="401.48" y2="392.30" stroke="#000" stroke-width="0.8"/>
<line x1="402.36" y1="390.20" x2="402.36" y2="392.30" stroke="#000" stroke-width="0.8"/>
<line x1="403.13" y1="390.20" x2="403.13" y2="392.30" stroke="#000" stroke-width="0.8"/>
<line x1="403.80" y1="390.20" x2="403.80" y2="392.30" stroke="#000" stroke-width="0.8"/>
<line x1="404.40" y1="390.20" x2="404.40" y2="393.70" stroke="#000" stroke-width="1.0"/>
<line x1="408.36" y1="390.20" x2="408.36" y2="392.30" stroke="#000" stroke-width="0.8"/>
<line x1="410.67" y1="390.20" x2="410.67" y2="392.30" stroke="#000" stroke-width="0.8"/>
<line x1="412.32" y1="390.20" x2="412.32" y2="392.30" stroke="#000" stroke-width="0.8"/>
<line x1="413.59" y1="390.20" x2="413.59" y2="392.30" stroke="#000" stroke-width="0.8"/>
<line x1="414.63" y1="390.20" x2="414.63" y2="392.30" stroke="#000" stroke-width="0.8"/>
<line x1="415.51" y1="390.20" x2="415.51" y2="392.30" stroke="#000" stroke-width="0.8"/>
<line x1="416.28" y1="390.20" x2="416.28" y2="392.30" stroke="#000" stroke-width="0.8"/>
<line x1="416.95" y1="390.20" x2="416.95" y2="392.30" stroke="#000" stroke-width="0.8"/>
<line x1="417.55" y1="390.20" x2="417.55" y2="393.70" stroke="#000" stroke-width="1.0"/>
<line x1="421.51" y1="390.20" x2="421.51" y2="392.30" stroke="#000" stroke-width="0.8"/>
<line x1="423.82" y1="390.20" x2="423.82" y2="392.30" stroke="#000" stroke-width="0.8"/>
<line x1="425.47" y1="390.20" x2="425.47" y2="392.30" stroke="#000" stroke-width="0.8"/>
<line x1="426.74" y1="390.20" x2="426.74" y2="392.30" stroke="#000" stroke-width="0.8"/>
<text x="294.10" y="401.10" font-size="9.4" text-anchor="end">10</text>
<text x="294.30" y="397.20" font-size="4.6">2</text>
<text x="320.40" y="401.10" font-size="9.4" text-anchor="end">10</text>
<text x="320.60" y="397.20" font-size="4.6">4</text>
<text x="346.70" y="401.10" font-size="9.4" text-anchor="end">10</text>
<text x="346.90" y="397.20" font-size="4.6">6</text>
<text x="370.30" y="401.10" font-size="9.4" text-anchor="end">10</text>
<text x="370.50" y="397.20" font-size="4.6">2</text>
<text x="396.60" y="401.10" font-size="9.4" text-anchor="end">10</text>
<text x="396.80" y="397.20" font-size="4.6">4</text>
<text x="422.90" y="401.10" font-size="9.4" text-anchor="end">10</text>
<text x="423.10" y="397.20" font-size="4.6">6</text>
<text x="352.8" y="411.6" font-size="9.4" text-anchor="middle">Fluorescence (MEFL)</text>
<text transform="translate(271.4,349.8) rotate(-90)" font-size="9.4" text-anchor="middle">Density</text>
</g>
</svg>
</body>
</html>
